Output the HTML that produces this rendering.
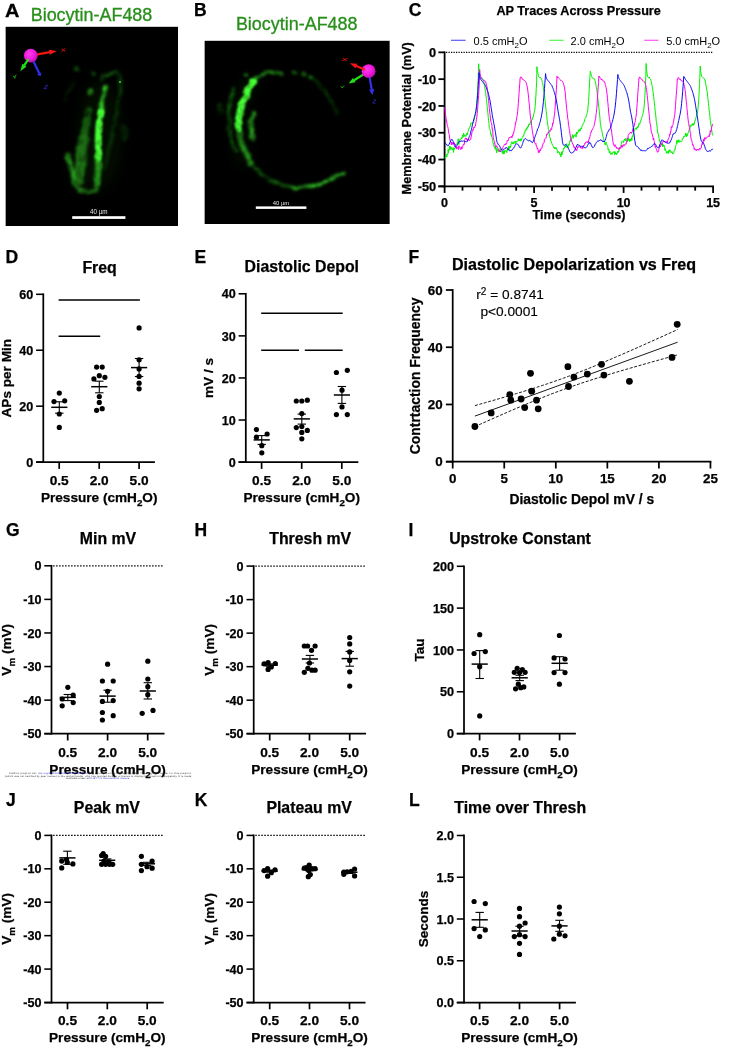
<!DOCTYPE html>
<html lang="en"><head><meta charset="utf-8"><title>Figure</title>
<style>html,body{margin:0;padding:0;background:#fff;overflow:hidden}svg{display:block}svg text{font-family:"Liberation Sans", Arial, Helvetica, sans-serif}</style></head><body>
<svg width="753" height="1049" viewBox="0 0 753 1049">
<defs><filter id="b15" x="-20%" y="-20%" width="140%" height="140%"><feGaussianBlur stdDeviation="1.1"/></filter><filter id="b3" x="-30%" y="-30%" width="160%" height="160%"><feGaussianBlur stdDeviation="2.4"/></filter><filter id="b6" x="-50%" y="-50%" width="200%" height="200%"><feGaussianBlur stdDeviation="7"/></filter><filter id="lump" filterUnits="userSpaceOnUse" x="0" y="20" width="400" height="215" color-interpolation-filters="sRGB"><feTurbulence type="fractalNoise" baseFrequency="0.11" numOctaves="2" seed="7" result="n"/><feDisplacementMap in="SourceGraphic" in2="n" scale="4.6" xChannelSelector="R" yChannelSelector="G" result="d"/><feGaussianBlur in="d" stdDeviation="1.4" result="b"/><feColorMatrix in="n" type="matrix" values="0 0 0 0 0  0 0 0 0 0  0 0 0 0 0  0 0 0.9 0 0.45" result="m"/><feComposite in="b" in2="m" operator="in"/></filter><filter id="lumpB" filterUnits="userSpaceOnUse" x="0" y="20" width="400" height="215" color-interpolation-filters="sRGB"><feTurbulence type="fractalNoise" baseFrequency="0.15" numOctaves="2" seed="11" result="n"/><feDisplacementMap in="SourceGraphic" in2="n" scale="3.8" xChannelSelector="R" yChannelSelector="G" result="d"/><feGaussianBlur in="d" stdDeviation="1.0" result="b"/><feColorMatrix in="n" type="matrix" values="0 0 0 0 0  0 0 0 0 0  0 0 0 0 0  0 0 0.7 0 0.6" result="m"/><feComposite in="b" in2="m" operator="in"/></filter><filter id="lumpD" filterUnits="userSpaceOnUse" x="0" y="20" width="400" height="215" color-interpolation-filters="sRGB"><feTurbulence type="fractalNoise" baseFrequency="0.12" numOctaves="2" seed="5" result="n"/><feDisplacementMap in="SourceGraphic" in2="n" scale="4.0" xChannelSelector="R" yChannelSelector="G" result="d"/><feGaussianBlur in="d" stdDeviation="1.8" result="b"/><feColorMatrix in="n" type="matrix" values="0 0 0 0 0  0 0 0 0 0  0 0 0 0 0  0 0 1.2 0 0.1" result="m"/><feComposite in="b" in2="m" operator="in"/></filter><filter id="gz" x="-20%" y="-20%" width="140%" height="140%"><feGaussianBlur stdDeviation="0.45"/></filter><filter id="gz2" x="-20%" y="-40%" width="140%" height="180%"><feGaussianBlur stdDeviation="0.3"/></filter><radialGradient id="sph" cx="0.4" cy="0.38" r="0.65"><stop offset="0" stop-color="#fa3cec"/><stop offset="0.6" stop-color="#ee18de"/><stop offset="1" stop-color="#b00ea6"/></radialGradient><clipPath id="clipA"><rect x="5.4" y="26.6" width="172.6" height="199.4"/></clipPath><clipPath id="clipB"><rect x="204.4" y="40.6" width="185.4" height="183.4"/></clipPath></defs>
<rect width="753" height="1049" fill="#fff"/>
<text transform="translate(5.0 16.7) scale(1.14 1)" font-size="17.5" font-weight="bold" stroke="#000" stroke-width="0.25">A</text>
<text x="30.7" y="20.8" font-size="17.95" font-weight="normal" text-anchor="start" fill="#288f1a" stroke="#288f1a" stroke-width="0.3">Biocytin-AF488</text>
<g clip-path="url(#clipA)">
<rect x="5.4" y="26.6" width="172.6" height="199.4" fill="#000"/>
<g filter="url(#b6)" opacity="0.3"><ellipse cx="100" cy="135" rx="22" ry="55" fill="#072c05"/><ellipse cx="84" cy="170" rx="14" ry="20" fill="#083206"/></g>
<g filter="url(#lumpD)" fill="none" stroke-linecap="round"><path d="M101.4 79.8 C104 76 110 73 116 71.8" stroke="#166e10" stroke-width="3.6"/><path d="M116 71.8 C121 74 121.5 86 118.9 98.8 C117.5 110 114.5 124 110 142.7 C108 152 106 160 104 168" stroke="#083605" stroke-width="4"/><path d="M89 110 C87 120 85 130 83.8 138" stroke="#13600e" stroke-width="6"/><path d="M75 82.8 C70 88 66 94 64.8 100" stroke="#041e03" stroke-width="3"/><ellipse cx="124.5" cy="133" rx="4" ry="9" fill="#052404" stroke="none"/><circle cx="77.3" cy="68.9" r="3" fill="#15700f" stroke="none"/><circle cx="93.3" cy="73.3" r="1.9" fill="#125c0c" stroke="none"/></g>
<g filter="url(#lump)" fill="none" stroke-linecap="round"><path d="M86.5 122 C85 130 84 136 83.6 140" stroke="#145c0e" stroke-width="7"/><path d="M83.8 138.8 C82.5 146 81 156 80.2 166 C79.8 172 79 176 78.7 180" stroke="#1d7014" stroke-width="10"/><circle cx="91" cy="91.5" r="3.2" fill="#27961c" stroke="none"/><path d="M67.8 155.8 C68.5 160 70 163 70.7 166 C71.5 169 72.4 171 72.9 173.3 C73.4 176 74 179 74.3 182" stroke="#279a1c" stroke-width="5"/><path d="M74.3 183.6 C76 186 77.5 188 79.4 189.4 C82 191.4 85 192.3 88.2 192.3 C91.5 192 94.5 191 97 189.4" stroke="#207c16" stroke-width="3.2"/><path d="M105 87.9 C104 92 103.2 96 102.8 98.8 C102 104 101.2 109 100.6 113.4" stroke="#2fc024" stroke-width="4.2"/><path d="M99 156 C98.2 162 97.8 168 97.7 172 C97.6 178 97.4 182 97 185" stroke="#2aaa1e" stroke-width="6"/></g>
<g filter="url(#lumpB)" fill="none" stroke-linecap="round"><path d="M100.8 112 C100 117 99.4 121 99.2 123.7 C98.8 128 98.5 132 98.4 136.8 C98.3 142 98.3 146 98.4 150 C98.6 153 98.9 155 99.2 157.3" stroke="#46ff34" stroke-width="6.8"/></g>
<circle cx="120" cy="82" r="0.9" fill="#48e03a"/>
<g filter="url(#gz)">
<line x1="34.74" y1="54.89" x2="49.81" y2="52.16" stroke="#f41414" stroke-width="2.2"/>
<polygon points="56.8,50.9 49.77,54.71 48.88,49.79" fill="#f41414"/>
<text transform="translate(63.8 51.6) rotate(-14) scale(1.3 0.8)" font-size="6" font-weight="bold" font-style="italic" fill="#f41414" opacity="0.85" text-anchor="middle">X</text>
<line x1="32.52" y1="59.21" x2="39.44" y2="73.76" stroke="#3030e8" stroke-width="2.2"/>
<polygon points="40.6,76.2 36.97,74.38 41.48,72.24" fill="#3030e8"/>
<text transform="translate(45.2 89) rotate(12) scale(1.0 1.0)" font-size="6" font-weight="bold" font-style="italic" fill="#3030e8" opacity="0.85" text-anchor="middle">Z</text>
<circle cx="30.8" cy="55.6" r="6.9" fill="url(#sph)"/>
<line x1="28.57" y1="58.92" x2="24.15" y2="65.48" stroke="#22e018" stroke-width="2.2"/>
<polygon points="20.3,71.2 22.36,63.67 26.51,66.46" fill="#22e018"/>
<text transform="translate(15.4 78.4) rotate(-20) scale(1.1 0.8)" font-size="6" font-weight="bold" font-style="italic" fill="#22e018" opacity="0.85" text-anchor="middle">Y</text>
</g>
<rect x="72.2" y="216.2" width="53.2" height="2.7" fill="#fff"/>
<text x="98.7" y="214.2" font-size="6.3" fill="#e6e6e6" text-anchor="middle" filter="url(#gz2)">40 &#181;m</text>
</g>
<text x="194" y="15.8" font-size="17.5" font-weight="bold" text-anchor="start" fill="#000" stroke="#000" stroke-width="0.25">B</text>
<text x="235.9" y="29.9" font-size="17.95" font-weight="normal" text-anchor="start" fill="#288f1a" stroke="#288f1a" stroke-width="0.3">Biocytin-AF488</text>
<g clip-path="url(#clipB)">
<rect x="204.4" y="40.6" width="185.4" height="183.4" fill="#000"/>
<g filter="url(#b6)" opacity="0.3"><path d="M256 78 C236 96 230 136 248 166" fill="none" stroke="#072c05" stroke-width="16"/></g>
<g filter="url(#lumpD)" fill="none" stroke-linecap="round"><path d="M311.6 77.9 C316 81 320 85 323.5 88.9 C328 94 331 99 333.5 104.8 C335 108 336.4 110.6 337.5 112.8" stroke="#083405" stroke-width="3"/><path d="M233.9 88.9 C231.5 94 230.4 99 229.9 104.8 C229.2 110 228.8 115 228.9 120.7 C229 127 229.8 133 230.9 138.7 C232 143 233.8 147 235.9 150.6" stroke="#0f5a0b" stroke-width="4"/><ellipse cx="220" cy="108.8" rx="3.4" ry="6" fill="#083806" stroke="none"/><path d="M250.8 162.6 C254 167 257.5 171 261.8 174.5 C266 178 270.5 180.6 275.7 182.5" stroke="#0f580b" stroke-width="3.6"/></g>
<g filter="url(#lump)" fill="none" stroke-linecap="round"><path d="M252.8 81.9 C255.5 79 258.5 76.6 261.8 74.9 C264.4 73.6 267 72.8 269.8 72.5 C273.8 72.3 277.8 72.9 281.7 73.9" stroke="#249a1a" stroke-width="3.2"/><path d="M293.2 72.4 L296.8 73.2 M302 74.1 L304.6 74.9 M309.6 77 L311.6 77.9" stroke="#1e8616" stroke-width="2.8"/><circle cx="245.9" cy="75.4" r="1.7" fill="#34c028" stroke="none"/><path d="M238.4 130 C238.8 134 239.6 137.6 240.9 140.7 C242 144 243.4 147.4 244.9 150.6 C246.6 155 248.6 159 250.8 162.6" stroke="#238c19" stroke-width="5.0"/><path d="M252.8 112.8 C251.6 117 250.9 122 250.8 126.7 C251 131 251.8 135 252.8 138.7" stroke="#2aa61e" stroke-width="4.6"/><path d="M275.7 182.5 C281 184.6 287 186.4 293.7 187.5" stroke="#176a10" stroke-width="3.2"/><path d="M293.7 187.5 C299 188 304.4 187.6 309.6 186.5 C315 185.4 320.4 183.6 325.5 181.5 C330 179.8 334 178.2 337.5 176.5 C340 175.4 342 174.5 343.9 173.5" stroke="#2fc024" stroke-width="3.3"/></g>
<g filter="url(#lumpB)" fill="none" stroke-linecap="round"><path d="M252.8 81.9 C250.6 85.4 248.6 89 246.9 92.8 C245 96.6 243.3 100.6 241.9 104.8 C240.6 108.8 239.6 112.8 238.9 116.8 C238.3 120.8 238 124.8 237.9 128.7" stroke="#46ff34" stroke-width="6.8"/></g>
<g filter="url(#gz)">
<line x1="365.21" y1="73.32" x2="353.71" y2="80.48" stroke="#22e018" stroke-width="2.2"/>
<polygon points="348.7,83.6 352.81,78.09 355.45,82.34" fill="#22e018"/>
<text transform="translate(342.4 88) rotate(-15) scale(1.3 0.45)" font-size="6" font-weight="bold" font-style="italic" fill="#22e018" opacity="0.85" text-anchor="middle">Y</text>
<line x1="369.26" y1="75.15" x2="371.7" y2="89.77" stroke="#3030e8" stroke-width="2.2"/>
<polygon points="372.6,95.2 369.15,89.69 374.08,88.87" fill="#3030e8"/>
<text transform="translate(373.8 103.6) rotate(10) scale(0.9 1.0)" font-size="6" font-weight="bold" font-style="italic" fill="#3030e8" opacity="0.85" text-anchor="middle">Z</text>
<circle cx="368.6" cy="71.2" r="6.9" fill="url(#sph)"/>
<line x1="364.92" y1="69.64" x2="355.89" y2="65.83" stroke="#f41414" stroke-width="2.2"/>
<polygon points="349.9,63.3 357.32,63.72 355.38,68.33" fill="#f41414"/>
<text transform="translate(344.7 61.4) rotate(0) scale(1.7 0.5)" font-size="6" font-weight="bold" font-style="italic" fill="#f41414" opacity="0.85" text-anchor="middle">X</text>
</g>
<rect x="255.8" y="206.4" width="50.6" height="2.5" fill="#fff"/>
<text x="281" y="204.6" font-size="5.9" fill="#e6e6e6" text-anchor="middle" filter="url(#gz2)">40 &#181;m</text>
</g>
<line x1="444.6" y1="51.45" x2="444.6" y2="187.25" stroke="#000" stroke-width="1.8"/>
<line x1="438.4" y1="186.35" x2="714" y2="186.35" stroke="#000" stroke-width="1.8"/>
<line x1="438.4" y1="52.35" x2="444.6" y2="52.35" stroke="#000" stroke-width="1.8"/>
<text x="436.2" y="56.95" font-size="12.8" font-weight="bold" text-anchor="end" fill="#000" stroke="#000" stroke-width="0.25">0</text>
<line x1="438.4" y1="79.15" x2="444.6" y2="79.15" stroke="#000" stroke-width="1.8"/>
<text x="436.2" y="83.75" font-size="12.8" font-weight="bold" text-anchor="end" fill="#000" stroke="#000" stroke-width="0.25">-10</text>
<line x1="438.4" y1="105.95" x2="444.6" y2="105.95" stroke="#000" stroke-width="1.8"/>
<text x="436.2" y="110.55" font-size="12.8" font-weight="bold" text-anchor="end" fill="#000" stroke="#000" stroke-width="0.25">-20</text>
<line x1="438.4" y1="132.75" x2="444.6" y2="132.75" stroke="#000" stroke-width="1.8"/>
<text x="436.2" y="137.35" font-size="12.8" font-weight="bold" text-anchor="end" fill="#000" stroke="#000" stroke-width="0.25">-30</text>
<line x1="438.4" y1="159.55" x2="444.6" y2="159.55" stroke="#000" stroke-width="1.8"/>
<text x="436.2" y="164.15" font-size="12.8" font-weight="bold" text-anchor="end" fill="#000" stroke="#000" stroke-width="0.25">-40</text>
<line x1="438.4" y1="186.35" x2="444.6" y2="186.35" stroke="#000" stroke-width="1.8"/>
<text x="436.2" y="190.95" font-size="12.8" font-weight="bold" text-anchor="end" fill="#000" stroke="#000" stroke-width="0.25">-50</text>
<line x1="446" y1="52.35" x2="713.1" y2="52.35" stroke="#000" stroke-width="1.1" stroke-dasharray="1.25 1.25"/>
<line x1="444.6" y1="186.35" x2="444.6" y2="192.95" stroke="#000" stroke-width="1.8"/>
<text x="444.6" y="206.6" font-size="12.5" font-weight="bold" text-anchor="middle" fill="#000" stroke="#000" stroke-width="0.25">0</text>
<line x1="462.5" y1="186.35" x2="462.5" y2="190.65" stroke="#000" stroke-width="1.8"/>
<line x1="480.4" y1="186.35" x2="480.4" y2="190.65" stroke="#000" stroke-width="1.8"/>
<line x1="498.3" y1="186.35" x2="498.3" y2="190.65" stroke="#000" stroke-width="1.8"/>
<line x1="516.2" y1="186.35" x2="516.2" y2="190.65" stroke="#000" stroke-width="1.8"/>
<line x1="534.1" y1="186.35" x2="534.1" y2="192.95" stroke="#000" stroke-width="1.8"/>
<text x="534.1" y="206.6" font-size="12.5" font-weight="bold" text-anchor="middle" fill="#000" stroke="#000" stroke-width="0.25">5</text>
<line x1="552" y1="186.35" x2="552" y2="190.65" stroke="#000" stroke-width="1.8"/>
<line x1="569.9" y1="186.35" x2="569.9" y2="190.65" stroke="#000" stroke-width="1.8"/>
<line x1="587.8" y1="186.35" x2="587.8" y2="190.65" stroke="#000" stroke-width="1.8"/>
<line x1="605.7" y1="186.35" x2="605.7" y2="190.65" stroke="#000" stroke-width="1.8"/>
<line x1="623.6" y1="186.35" x2="623.6" y2="192.95" stroke="#000" stroke-width="1.8"/>
<text x="623.6" y="206.6" font-size="12.5" font-weight="bold" text-anchor="middle" fill="#000" stroke="#000" stroke-width="0.25">10</text>
<line x1="641.5" y1="186.35" x2="641.5" y2="190.65" stroke="#000" stroke-width="1.8"/>
<line x1="659.4" y1="186.35" x2="659.4" y2="190.65" stroke="#000" stroke-width="1.8"/>
<line x1="677.3" y1="186.35" x2="677.3" y2="190.65" stroke="#000" stroke-width="1.8"/>
<line x1="695.2" y1="186.35" x2="695.2" y2="190.65" stroke="#000" stroke-width="1.8"/>
<line x1="713.1" y1="186.35" x2="713.1" y2="192.95" stroke="#000" stroke-width="1.8"/>
<text x="713.1" y="206.6" font-size="12.5" font-weight="bold" text-anchor="middle" fill="#000" stroke="#000" stroke-width="0.25">15</text>
<path d="M444.6 157.75 L444.96 157.74 L445.32 158.01 L445.67 156.66 L446.03 157.08 L446.39 154.43 L446.75 157.05 L447.11 155.36 L447.46 154.29 L447.82 154.61 L448.18 149.12 L448.54 153.02 L448.9 149.75 L449.25 149.27 L449.61 146.23 L449.97 149.94 L450.33 146.3 L450.69 148.32 L451.04 147.83 L451.4 148.68 L451.76 147.56 L452.12 149.97 L452.48 149.19 L452.83 149.04 L453.19 147.59 L453.55 152.43 L453.91 147.89 L454.27 148.22 L454.62 149.32 L454.98 147.74 L455.34 147.78 L455.7 144.47 L456.06 145.13 L456.41 144.65 L456.77 143.77 L457.13 142.94 L457.49 142.25 L457.85 142.48 L458.2 138.72 L458.56 142.81 L458.92 144.43 L459.28 140.29 L459.64 140.14 L459.99 139.39 L460.35 139.85 L460.71 139.53 L461.07 138.67 L461.43 137.57 L461.78 138.7 L462.14 138.11 L462.5 134.98 L462.86 136.05 L463.22 137.28 L463.57 133.16 L463.93 134.59 L464.29 135.91 L464.65 136.45 L465.01 134.74 L465.36 136 L465.72 136.25 L466.08 136.42 L466.44 135.33 L466.8 133.23 L467.15 134.4 L467.51 134.8 L467.87 131.79 L468.23 131.48 L468.59 129.67 L468.94 128.22 L469.3 128.43 L469.66 127.31 L470.02 126.21 L470.38 126.31 L470.73 123.97 L471.09 122.78 L471.45 123.34 L471.81 123.3 L472.17 123.01 L472.52 123.13 L472.88 122.83 L473.24 122.09 L473.6 121.7 L473.96 120.35 L474.31 119.7 L474.67 117.02 L475.03 115.66 L475.39 114.72 L475.75 113.71 L476.1 110.83 L476.46 107.6 L476.82 104.08 L477.18 98.77 L477.54 92.46 L477.89 84.34 L478.25 77.18 L478.61 63.75 L478.97 70.1 L479.33 71.37 L479.68 74.42 L480.04 76.33 L480.4 77.73 L480.76 77.81 L481.12 77.78 L481.47 77.55 L481.83 77.91 L482.19 78.58 L482.55 78.63 L482.91 79 L483.26 80.19 L483.62 81.3 L483.98 82.7 L484.34 84.08 L484.7 86.3 L485.05 89.07 L485.41 90.88 L485.77 93.8 L486.13 96.89 L486.49 99.35 L486.84 102.89 L487.2 106.88 L487.56 109.94 L487.92 113.22 L488.28 117.46 L488.63 120.82 L488.99 123.6 L489.35 128.59 L489.71 128.75 L490.07 129.83 L490.42 131.24 L490.78 134.45 L491.14 133.76 L491.5 136.38 L491.86 136.18 L492.21 137.71 L492.57 139.82 L492.93 142.56 L493.29 143.83 L493.65 143.45 L494 146.52 L494.36 145.98 L494.72 146.93 L495.08 148.68 L495.44 146.38 L495.79 149.56 L496.15 147.62 L496.51 152.54 L496.87 152.91 L497.23 149.28 L497.58 149.55 L497.94 150.38 L498.3 149.78 L498.66 151.57 L499.02 149.94 L499.37 150.33 L499.73 149.5 L500.09 148.46 L500.45 149.73 L500.81 149.79 L501.16 151.47 L501.52 151.67 L501.88 151.53 L502.24 152.42 L502.6 151.06 L502.95 153.77 L503.31 150.84 L503.67 154.11 L504.03 151.66 L504.39 153.44 L504.74 150.37 L505.1 151.71 L505.46 151.07 L505.82 150.35 L506.18 151.6 L506.53 151.77 L506.89 152.6 L507.25 148.67 L507.61 150.52 L507.97 150.07 L508.32 149.06 L508.68 146.35 L509.04 150.03 L509.4 147.25 L509.76 147.37 L510.11 145.69 L510.47 147.67 L510.83 145.47 L511.19 143.48 L511.55 142.14 L511.9 141.64 L512.26 144.03 L512.62 142.73 L512.98 142.72 L513.34 144.04 L513.69 144.06 L514.05 141.58 L514.41 142.17 L514.77 142.62 L515.13 141.09 L515.48 143.56 L515.84 141.77 L516.2 142.24 L516.56 142.15 L516.92 141.3 L517.27 141.39 L517.63 141.03 L517.99 140.78 L518.35 138.69 L518.71 141.05 L519.06 139.42 L519.42 139.76 L519.78 140.75 L520.14 139.37 L520.5 141.11 L520.85 138.67 L521.21 140.65 L521.57 139.96 L521.93 138.59 L522.29 137.43 L522.64 136.63 L523 135.82 L523.36 136.16 L523.72 136.06 L524.08 133.38 L524.43 132.69 L524.79 133.13 L525.15 130.12 L525.51 130.16 L525.87 130.65 L526.22 128.53 L526.58 129.75 L526.94 128.73 L527.3 126.93 L527.66 128.31 L528.01 126.24 L528.37 126.98 L528.73 124.51 L529.09 125.26 L529.45 123.89 L529.8 124.75 L530.16 123.2 L530.52 121.59 L530.88 121.46 L531.24 122.7 L531.59 120.07 L531.95 119.49 L532.31 119.58 L532.67 117.4 L533.03 117.8 L533.38 115.99 L533.74 114.12 L534.1 112.77 L534.46 111.23 L534.82 109.86 L535.17 106.61 L535.53 101.03 L535.89 96.05 L536.25 88.88 L536.61 82.17 L536.96 66.67 L537.32 71.63 L537.68 71.5 L538.04 73.42 L538.4 75.38 L538.75 76.81 L539.11 77.19 L539.47 77.51 L539.83 77.56 L540.19 78.07 L540.54 77.41 L540.9 78.44 L541.26 78.54 L541.62 79.19 L541.98 80.89 L542.33 82.37 L542.69 82.89 L543.05 85.56 L543.41 87.57 L543.77 89.96 L544.12 92.27 L544.48 95.57 L544.84 98.26 L545.2 101.71 L545.56 104.91 L545.91 109.2 L546.27 111.3 L546.63 114.6 L546.99 119.13 L547.35 121.87 L547.7 124.4 L548.06 126.55 L548.42 129.41 L548.78 129.91 L549.14 133.21 L549.49 136.13 L549.85 137.45 L550.21 137.48 L550.57 140.57 L550.93 140.45 L551.28 141.61 L551.64 143.17 L552 143.38 L552.36 145.14 L552.72 145.26 L553.07 146.2 L553.43 146.52 L553.79 147.9 L554.15 147.09 L554.51 148.03 L554.86 148.83 L555.22 147.51 L555.58 147.68 L555.94 149.12 L556.3 147.73 L556.65 148.69 L557.01 149.04 L557.37 151.39 L557.73 152.94 L558.09 151.21 L558.44 152.09 L558.8 152.19 L559.16 153.05 L559.52 152.52 L559.88 154.58 L560.23 153.67 L560.59 155.46 L560.95 156.92 L561.31 154.55 L561.67 151.94 L562.02 154.9 L562.38 151.04 L562.74 151.96 L563.1 150.6 L563.46 149.11 L563.81 148.05 L564.17 148.66 L564.53 146.87 L564.89 146.13 L565.25 145.47 L565.6 147.16 L565.96 144.56 L566.32 144.2 L566.68 143.67 L567.04 147.88 L567.39 146.06 L567.75 148.1 L568.11 145.18 L568.47 144.4 L568.83 145.58 L569.18 145.2 L569.54 142.23 L569.9 140.73 L570.26 141.32 L570.62 139.75 L570.97 141.39 L571.33 138.56 L571.69 136.94 L572.05 136.44 L572.41 134.49 L572.76 137.36 L573.12 138.53 L573.48 135.5 L573.84 136.73 L574.2 135.82 L574.55 135.36 L574.91 135.45 L575.27 134.33 L575.63 134.15 L575.99 137.15 L576.34 134.88 L576.7 132.01 L577.06 134.14 L577.42 132.01 L577.78 132.57 L578.13 132.43 L578.49 129.79 L578.85 129.96 L579.21 130.93 L579.57 129.41 L579.92 131.32 L580.28 130.35 L580.64 128.33 L581 128.65 L581.36 129.08 L581.71 127.01 L582.07 126.39 L582.43 124.76 L582.79 124.22 L583.15 124.38 L583.5 123.68 L583.86 122.56 L584.22 121.83 L584.58 119.8 L584.94 118.95 L585.29 118.24 L585.65 117.87 L586.01 117.13 L586.37 115.31 L586.73 114.78 L587.08 113.24 L587.44 112.44 L587.8 109.6 L588.16 105.35 L588.52 101.59 L588.87 96.19 L589.23 89.45 L589.59 82.31 L589.95 76.66 L590.31 71.25 L590.66 72.84 L591.02 73.76 L591.38 75.76 L591.74 76.68 L592.1 77.46 L592.45 78.19 L592.81 77.97 L593.17 78.01 L593.53 78.49 L593.89 78.99 L594.24 78.73 L594.6 78.97 L594.96 80.65 L595.32 81.88 L595.68 83.19 L596.03 85.5 L596.39 87.91 L596.75 89.31 L597.11 92.73 L597.47 95.39 L597.82 98.48 L598.18 101.88 L598.54 105 L598.9 108.05 L599.26 111.08 L599.61 114.73 L599.97 118.44 L600.33 122.66 L600.69 124.74 L601.05 128.04 L601.4 129.25 L601.76 129.81 L602.12 132.2 L602.48 134.23 L602.84 136.37 L603.19 137.03 L603.55 138.32 L603.91 140.89 L604.27 141.66 L604.63 141.08 L604.98 144.57 L605.34 143.61 L605.7 144.77 L606.06 142.12 L606.42 143.68 L606.77 144.38 L607.13 145.21 L607.49 146.13 L607.85 147.01 L608.21 150.08 L608.56 149.01 L608.92 149.6 L609.28 152.74 L609.64 150.88 L610 151.58 L610.35 154.42 L610.71 153.51 L611.07 153.48 L611.43 153.79 L611.79 152.72 L612.14 154.49 L612.5 153.15 L612.86 152.47 L613.22 151.75 L613.58 152.39 L613.93 152.66 L614.29 151.63 L614.65 154.73 L615.01 151.54 L615.37 152.98 L615.72 154.04 L616.08 153.06 L616.44 154.58 L616.8 154.72 L617.16 152.65 L617.51 152.93 L617.87 150.9 L618.23 152.29 L618.59 152.19 L618.95 151.13 L619.3 147.34 L619.66 148.38 L620.02 148.17 L620.38 147.63 L620.74 146.79 L621.09 144.81 L621.45 143.25 L621.81 141.62 L622.17 140.9 L622.53 141.24 L622.88 141.75 L623.24 141.52 L623.6 142.79 L623.96 141.04 L624.32 139.2 L624.67 139.88 L625.03 138.96 L625.39 140.8 L625.75 138.21 L626.11 138.85 L626.46 139.13 L626.82 138.77 L627.18 141.82 L627.54 140.06 L627.9 140.61 L628.25 137.76 L628.61 140.21 L628.97 140.76 L629.33 139.37 L629.69 141.6 L630.04 138.79 L630.4 141.04 L630.76 140.01 L631.12 140.49 L631.48 137.87 L631.83 140.39 L632.19 136.19 L632.55 136.82 L632.91 134.72 L633.27 134.93 L633.62 132.27 L633.98 131.3 L634.34 129.99 L634.7 129.57 L635.06 128.68 L635.41 127.89 L635.77 129.01 L636.13 129.57 L636.49 129.45 L636.85 127.34 L637.2 128.09 L637.56 126.45 L637.92 126.96 L638.28 127.36 L638.64 125.06 L638.99 123.48 L639.35 124.44 L639.71 124.17 L640.07 123.19 L640.43 120.99 L640.78 121.17 L641.14 120.02 L641.5 118.13 L641.86 117.36 L642.22 116.08 L642.57 115.26 L642.93 114.1 L643.29 112.51 L643.65 110.77 L644.01 107.8 L644.36 103.99 L644.72 98.44 L645.08 92.04 L645.44 84.51 L645.8 76.48 L646.15 63.48 L646.51 69.8 L646.87 71.66 L647.23 74.8 L647.59 76.11 L647.94 77.19 L648.3 77.66 L648.66 78 L649.02 77.58 L649.38 76.99 L649.73 78.14 L650.09 78.76 L650.45 79.22 L650.81 80.36 L651.17 81.09 L651.52 82.81 L651.88 84.65 L652.24 86.42 L652.6 88.61 L652.96 91.07 L653.31 93.93 L653.67 96.49 L654.03 100.27 L654.39 102.91 L654.75 106.73 L655.1 109.97 L655.46 112.86 L655.82 116.01 L656.18 120.35 L656.54 122.68 L656.89 124.98 L657.25 128.83 L657.61 132.51 L657.97 132.3 L658.33 134.51 L658.68 136.1 L659.04 138.47 L659.4 140.22 L659.76 141.69 L660.12 141.73 L660.47 143.68 L660.83 144.09 L661.19 145.22 L661.55 143.36 L661.91 144.64 L662.26 143.5 L662.62 146.76 L662.98 144.35 L663.34 145.2 L663.7 146.29 L664.05 145.2 L664.41 147.23 L664.77 148.97 L665.13 150.5 L665.49 148.76 L665.84 150.79 L666.2 151.44 L666.56 153.38 L666.92 151.21 L667.28 152.01 L667.63 152.73 L667.99 152.21 L668.35 153.51 L668.71 150.53 L669.07 152.12 L669.42 149.68 L669.78 151.02 L670.14 151.3 L670.5 150.45 L670.86 151.02 L671.21 152.95 L671.57 152.11 L671.93 151.62 L672.29 152.76 L672.65 154.08 L673 152.78 L673.36 153.33 L673.72 152.42 L674.08 151.02 L674.44 150.22 L674.79 149.31 L675.15 149.73 L675.51 146.22 L675.87 145.59 L676.23 144.65 L676.58 142.99 L676.94 140.16 L677.3 143.13 L677.66 143.07 L678.02 140.21 L678.37 141.92 L678.73 139.68 L679.09 142.44 L679.45 142.11 L679.81 140.83 L680.16 140.88 L680.52 141.43 L680.88 141.3 L681.24 141.7 L681.6 141.66 L681.95 140.89 L682.31 138.65 L682.67 138.66 L683.03 138.8 L683.39 137.88 L683.74 136.77 L684.1 135.93 L684.46 137.04 L684.82 136.67 L685.18 135.94 L685.53 133.12 L685.89 135.49 L686.25 134.01 L686.61 136.76 L686.97 133.62 L687.32 135.56 L687.68 134.5 L688.04 133.21 L688.4 131.84 L688.76 130.65 L689.11 129.62 L689.47 128.98 L689.83 128.93 L690.19 125.28 L690.55 126.9 L690.9 126.16 L691.26 124.49 L691.62 125.13 L691.98 125.16 L692.34 125.07 L692.69 123.41 L693.05 125.49 L693.41 124.91 L693.77 123.49 L694.13 124.57 L694.48 122.92 L694.84 120.72 L695.2 120.86 L695.56 119.19 L695.92 117.49 L696.27 117.18 L696.63 115.01 L696.99 114.15 L697.35 113.05 L697.71 110.93 L698.06 108.06 L698.42 103.95 L698.78 98.84 L699.14 91.97 L699.5 84.57 L699.85 77.4 L700.21 66.06 L700.57 71.12 L700.93 72.41 L701.29 74.93 L701.64 76.16 L702 76.79 L702.36 77.19 L702.72 77.69 L703.08 77.96 L703.43 77.93 L703.79 78.26 L704.15 78.56 L704.51 78.81 L704.87 80.4 L705.22 80.31 L705.58 83.37 L705.94 85.1 L706.3 87.1 L706.66 89.1 L707.01 91.12 L707.37 92.81 L707.73 96.87 L708.09 99.41 L708.45 103.36 L708.8 106.53 L709.16 110.37 L709.52 112.28 L709.88 116.6 L710.24 120.18 L710.59 120.93 L710.95 125.23 L711.31 127.17 L711.67 129.64 L712.03 132.23 L712.38 134.88 L712.74 135.29 L713.1 134.71" fill="none" stroke="#00f200" stroke-width="1.0" stroke-linejoin="round"/>
<path d="M444.6 107.46 L444.96 109.29 L445.32 112.17 L445.67 115.26 L446.03 118.48 L446.39 120.08 L446.75 121.94 L447.11 124.48 L447.46 126.24 L447.82 126.78 L448.18 128.62 L448.54 131.84 L448.9 133.6 L449.25 134.66 L449.61 137.88 L449.97 140 L450.33 140.95 L450.69 142.13 L451.04 142.75 L451.4 144.84 L451.76 141.94 L452.12 143.39 L452.48 144.35 L452.83 142.78 L453.19 143.44 L453.55 143.87 L453.91 143.29 L454.27 142.65 L454.62 144.56 L454.98 144.14 L455.34 144.13 L455.7 147.36 L456.06 147.43 L456.41 146.74 L456.77 149.21 L457.13 148.2 L457.49 146.96 L457.85 147.17 L458.2 147.5 L458.56 149.5 L458.92 145.75 L459.28 147.23 L459.64 147.04 L459.99 147.35 L460.35 149.38 L460.71 149.33 L461.07 149.33 L461.43 146.77 L461.78 149.08 L462.14 148.26 L462.5 147.66 L462.86 146.08 L463.22 145.08 L463.57 144.1 L463.93 144.17 L464.29 144.54 L464.65 140.54 L465.01 139.46 L465.36 137.86 L465.72 138.52 L466.08 138.76 L466.44 137.98 L466.8 140.02 L467.15 140.09 L467.51 140.65 L467.87 140.09 L468.23 138.99 L468.59 140.4 L468.94 140.12 L469.3 140.65 L469.66 140.08 L470.02 139.89 L470.38 138.71 L470.73 139.35 L471.09 137.02 L471.45 135.83 L471.81 132.82 L472.17 131.92 L472.52 130.57 L472.88 129.42 L473.24 130.23 L473.6 128.46 L473.96 127.16 L474.31 128 L474.67 126.51 L475.03 126.47 L475.39 126.13 L475.75 123.32 L476.1 121.82 L476.46 119.13 L476.82 117.01 L477.18 113.79 L477.54 110.83 L477.89 105.04 L478.25 100.18 L478.61 95.24 L478.97 89.36 L479.33 82.71 L479.68 69.57 L480.04 74.56 L480.4 74.61 L480.76 76.65 L481.12 77.67 L481.47 77.72 L481.83 78.63 L482.19 79.62 L482.55 79.77 L482.91 80.22 L483.26 80.35 L483.62 79.94 L483.98 80.62 L484.34 80.47 L484.7 81.01 L485.05 81.78 L485.41 81.91 L485.77 81.69 L486.13 83.7 L486.49 85.15 L486.84 85.96 L487.2 88.06 L487.56 90.37 L487.92 92.96 L488.28 97.51 L488.63 100.65 L488.99 104.87 L489.35 108.71 L489.71 112.21 L490.07 114.66 L490.42 117.93 L490.78 121.12 L491.14 122.71 L491.5 122.87 L491.86 125.25 L492.21 129.19 L492.57 128.74 L492.93 133.9 L493.29 137.39 L493.65 139.08 L494 140.37 L494.36 141.45 L494.72 143.03 L495.08 144.96 L495.44 145.49 L495.79 146.57 L496.15 145.59 L496.51 146.29 L496.87 145.86 L497.23 147.61 L497.58 147.54 L497.94 148.61 L498.3 149.76 L498.66 150.57 L499.02 151.05 L499.37 151.57 L499.73 150.24 L500.09 150.74 L500.45 151.99 L500.81 150.26 L501.16 150.19 L501.52 148.75 L501.88 149.66 L502.24 149.03 L502.6 148.74 L502.95 147.3 L503.31 146.26 L503.67 145.89 L504.03 145.69 L504.39 144.49 L504.74 144.5 L505.1 144.04 L505.46 144.8 L505.82 143.54 L506.18 144.33 L506.53 143.88 L506.89 142.63 L507.25 140.47 L507.61 140.88 L507.97 141.08 L508.32 140.51 L508.68 138.74 L509.04 137.67 L509.4 137.16 L509.76 137.82 L510.11 137.03 L510.47 137.11 L510.83 136.79 L511.19 137.07 L511.55 136.34 L511.9 137.8 L512.26 136.68 L512.62 134.83 L512.98 135.3 L513.34 132.96 L513.69 133.14 L514.05 130.86 L514.41 128.7 L514.77 128.19 L515.13 126.33 L515.48 122.51 L515.84 122.81 L516.2 120.92 L516.56 118.94 L516.92 116.82 L517.27 114.81 L517.63 111.82 L517.99 107.86 L518.35 103.34 L518.71 98.07 L519.06 93.19 L519.42 88.11 L519.78 83.37 L520.14 77.59 L520.5 77.71 L520.85 76.82 L521.21 77 L521.57 77.86 L521.93 77.79 L522.29 79.13 L522.64 79.55 L523 79.79 L523.36 79.57 L523.72 80.21 L524.08 80.65 L524.43 80.55 L524.79 80.59 L525.15 81.23 L525.51 81.59 L525.87 81.72 L526.22 82.62 L526.58 83.86 L526.94 85.82 L527.3 87.12 L527.66 89.12 L528.01 92.44 L528.37 94.82 L528.73 98.84 L529.09 102.77 L529.45 105.72 L529.8 110.09 L530.16 113.99 L530.52 117.12 L530.88 119.79 L531.24 122.23 L531.59 125.16 L531.95 128.07 L532.31 130.3 L532.67 132.7 L533.03 135.11 L533.38 136.24 L533.74 138.62 L534.1 139.93 L534.46 142.15 L534.82 143.19 L535.17 143.31 L535.53 144.08 L535.89 143.46 L536.25 146.04 L536.61 145.91 L536.96 147.04 L537.32 149.1 L537.68 148.28 L538.04 149.72 L538.4 152.64 L538.75 151 L539.11 151.06 L539.47 152.42 L539.83 149.71 L540.19 150.31 L540.54 150.68 L540.9 148.37 L541.26 148.36 L541.62 148.41 L541.98 148.33 L542.33 145.47 L542.69 145.58 L543.05 143.64 L543.41 143.12 L543.77 143.16 L544.12 142.38 L544.48 139.55 L544.84 138.75 L545.2 138.7 L545.56 138.76 L545.91 138.36 L546.27 136.9 L546.63 134.18 L546.99 134.37 L547.35 134.23 L547.7 134.37 L548.06 132.58 L548.42 133.05 L548.78 131.95 L549.14 131.09 L549.49 130.64 L549.85 131.27 L550.21 131.41 L550.57 130.48 L550.93 128.61 L551.28 129.04 L551.64 129.55 L552 126.49 L552.36 126.34 L552.72 122.89 L553.07 123.7 L553.43 121.48 L553.79 119.46 L554.15 116.82 L554.51 114.26 L554.86 110.64 L555.22 106.25 L555.58 100.63 L555.94 95.48 L556.3 90.19 L556.65 84.3 L557.01 76.23 L557.37 77.7 L557.73 77.11 L558.09 76.9 L558.44 77.58 L558.8 78.18 L559.16 78.47 L559.52 78.98 L559.88 79.42 L560.23 79.74 L560.59 80.48 L560.95 80.52 L561.31 80.44 L561.67 80.92 L562.02 81.3 L562.38 81.21 L562.74 81.99 L563.1 82.59 L563.46 83.2 L563.81 84.94 L564.17 85.9 L564.53 87.93 L564.89 90.12 L565.25 93.07 L565.6 97.63 L565.96 100.8 L566.32 104.94 L566.68 108.42 L567.04 111.98 L567.39 114.81 L567.75 118.52 L568.11 120.35 L568.47 124.16 L568.83 126.29 L569.18 128.62 L569.54 130.32 L569.9 133.41 L570.26 135.99 L570.62 137.69 L570.97 140.4 L571.33 139.6 L571.69 141.15 L572.05 142.19 L572.41 142.93 L572.76 144.32 L573.12 144.88 L573.48 144.66 L573.84 146.96 L574.2 147.89 L574.55 146.78 L574.91 147.67 L575.27 149.56 L575.63 149.96 L575.99 150.57 L576.34 149.39 L576.7 150.53 L577.06 149.36 L577.42 148.22 L577.78 146.65 L578.13 147.47 L578.49 146.56 L578.85 146.87 L579.21 146.9 L579.57 146.98 L579.92 146.58 L580.28 146.23 L580.64 147.99 L581 148.26 L581.36 148.32 L581.71 147.74 L582.07 147.33 L582.43 148.72 L582.79 146.86 L583.15 147.41 L583.5 145.21 L583.86 145.89 L584.22 145.24 L584.58 144.24 L584.94 143.13 L585.29 143.54 L585.65 142.26 L586.01 142.21 L586.37 142.24 L586.73 142.05 L587.08 141.46 L587.44 142.67 L587.8 141.74 L588.16 141.29 L588.52 142.34 L588.87 139.34 L589.23 139.26 L589.59 137.99 L589.95 136.47 L590.31 134.71 L590.66 133.29 L591.02 132.08 L591.38 132.15 L591.74 130.15 L592.1 129.68 L592.45 129.7 L592.81 128.79 L593.17 127.59 L593.53 127.24 L593.89 126.29 L594.24 125.62 L594.6 123.49 L594.96 121.02 L595.32 119.91 L595.68 118.68 L596.03 114.7 L596.39 112.44 L596.75 108.52 L597.11 103.93 L597.47 97.84 L597.82 92.35 L598.18 87.05 L598.54 82.66 L598.9 76.04 L599.26 77.18 L599.61 76.95 L599.97 77.19 L600.33 77.75 L600.69 78.42 L601.05 78.85 L601.4 80.02 L601.76 79.19 L602.12 80.09 L602.48 79.98 L602.84 80.67 L603.19 80.63 L603.55 80.99 L603.91 81.67 L604.27 81.4 L604.63 81.86 L604.98 83.26 L605.34 84.78 L605.7 85.78 L606.06 87.46 L606.42 89.19 L606.77 91.89 L607.13 94.71 L607.49 98.68 L607.85 102.74 L608.21 106.37 L608.56 111 L608.92 114.15 L609.28 117.47 L609.64 119.74 L610 121.63 L610.35 123.6 L610.71 125.05 L611.07 128.4 L611.43 130.03 L611.79 133.05 L612.14 135.74 L612.5 138.28 L612.86 141.38 L613.22 143.07 L613.58 144.74 L613.93 144.77 L614.29 146.3 L614.65 146.33 L615.01 144.6 L615.37 146.45 L615.72 146.68 L616.08 146.37 L616.44 148.42 L616.8 147.33 L617.16 147.82 L617.51 148.62 L617.87 148.55 L618.23 148.81 L618.59 148.35 L618.95 149.67 L619.3 148.48 L619.66 148.99 L620.02 147.07 L620.38 147.57 L620.74 148.32 L621.09 146.63 L621.45 147.14 L621.81 145.06 L622.17 145.9 L622.53 147.31 L622.88 145.71 L623.24 144.53 L623.6 145.2 L623.96 146.12 L624.32 145.07 L624.67 145.07 L625.03 144.09 L625.39 144.18 L625.75 144.03 L626.11 144.18 L626.46 142.21 L626.82 140.96 L627.18 139.85 L627.54 138.12 L627.9 138.17 L628.25 135.47 L628.61 134.93 L628.97 133.82 L629.33 133.61 L629.69 133.4 L630.04 132.71 L630.4 132.17 L630.76 133.09 L631.12 132.52 L631.48 133.33 L631.83 131.98 L632.19 131.69 L632.55 131.82 L632.91 128.82 L633.27 129.21 L633.62 127.27 L633.98 126.96 L634.34 125.81 L634.7 122.7 L635.06 122.14 L635.41 120.56 L635.77 117.7 L636.13 115.96 L636.49 112.35 L636.85 107.56 L637.2 103.33 L637.56 97.86 L637.92 92.61 L638.28 87.63 L638.64 83.3 L638.99 77.63 L639.35 77.89 L639.71 77.02 L640.07 77.27 L640.43 78.19 L640.78 78.34 L641.14 78.95 L641.5 79.17 L641.86 79.45 L642.22 79.45 L642.57 80.74 L642.93 80.59 L643.29 80.82 L643.65 81.19 L644.01 81.07 L644.36 81.54 L644.72 82.01 L645.08 83.41 L645.44 84.43 L645.8 85.6 L646.15 87.34 L646.51 89.41 L646.87 91.92 L647.23 95.27 L647.59 99.19 L647.94 102.17 L648.3 106.62 L648.66 109.94 L649.02 113.56 L649.38 116.82 L649.73 120.63 L650.09 123.52 L650.45 124.89 L650.81 126.99 L651.17 130.8 L651.52 132.84 L651.88 132.8 L652.24 134.35 L652.6 136.02 L652.96 137.19 L653.31 139.96 L653.67 138.19 L654.03 140.81 L654.39 141.6 L654.75 143.7 L655.1 146.96 L655.46 146.28 L655.82 148.16 L656.18 148.45 L656.54 149.92 L656.89 150.11 L657.25 152.13 L657.61 152.1 L657.97 151.75 L658.33 151.75 L658.68 150.48 L659.04 148.4 L659.4 146.21 L659.76 147.11 L660.12 145.48 L660.47 146.53 L660.83 145.41 L661.19 144.24 L661.55 143.56 L661.91 144.47 L662.26 142.65 L662.62 142.62 L662.98 141.23 L663.34 141.19 L663.7 141.21 L664.05 141.78 L664.41 141.08 L664.77 141.95 L665.13 141.91 L665.49 142.79 L665.84 142.39 L666.2 142.44 L666.56 141.5 L666.92 141.3 L667.28 142.37 L667.63 140.99 L667.99 140.04 L668.35 138.85 L668.71 138.76 L669.07 137.34 L669.42 136.53 L669.78 134 L670.14 134.56 L670.5 131.41 L670.86 131.87 L671.21 127.19 L671.57 126.54 L671.93 127.67 L672.29 125.6 L672.65 125.28 L673 124.43 L673.36 122.26 L673.72 120.92 L674.08 118.17 L674.44 116.83 L674.79 114.28 L675.15 110.22 L675.51 105.54 L675.87 100.35 L676.23 95.24 L676.58 90.8 L676.94 86 L677.3 78.94 L677.66 79.49 L678.02 77.55 L678.37 77.43 L678.73 77.6 L679.09 78.24 L679.45 78.69 L679.81 79.61 L680.16 78.89 L680.52 79.96 L680.88 80.26 L681.24 80.83 L681.6 80.58 L681.95 81.22 L682.31 80.97 L682.67 80.97 L683.03 81.54 L683.39 82.52 L683.74 83.1 L684.1 84.89 L684.46 86.35 L684.82 88.08 L685.18 90.51 L685.53 93.29 L685.89 97.34 L686.25 101.3 L686.61 104.2 L686.97 108.5 L687.32 112.11 L687.68 115.47 L688.04 119.04 L688.4 122.1 L688.76 123.81 L689.11 126.35 L689.47 127.35 L689.83 130.13 L690.19 132.09 L690.55 133.41 L690.9 137.64 L691.26 139.85 L691.62 140.05 L691.98 141.3 L692.34 143.59 L692.69 145.28 L693.05 144.54 L693.41 145.94 L693.77 146.24 L694.13 149.25 L694.48 148.38 L694.84 149.62 L695.2 150.13 L695.56 149.16 L695.92 149.44 L696.27 150.73 L696.63 150.58 L696.99 149.02 L697.35 149.35 L697.71 149.76 L698.06 149.06 L698.42 149.27 L698.78 150.33 L699.14 149.57 L699.5 148.73 L699.85 148.18 L700.21 149.35 L700.57 148.52 L700.93 147.7 L701.29 147.71 L701.64 144.64 L702 144.24 L702.36 142.53 L702.72 144.5 L703.08 142.4 L703.43 139.33 L703.79 141.32 L704.15 141.08 L704.51 138.89 L704.87 137.41 L705.22 137.94 L705.58 139.1 L705.94 137.71 L706.3 137.77 L706.66 137.82 L707.01 137.62 L707.37 137.09 L707.73 136.54 L708.09 135.99 L708.45 135.75 L708.8 136.16 L709.16 136.86 L709.52 134.02 L709.88 134.82 L710.24 130.56 L710.59 132.18 L710.95 131.4 L711.31 130.09 L711.67 127.2 L712.03 126.16 L712.38 124.84 L712.74 124.12 L713.1 124.04" fill="none" stroke="#ff00f0" stroke-width="1.0" stroke-linejoin="round"/>
<path d="M444.6 141.95 L444.96 142.27 L445.32 142.83 L445.67 143.65 L446.03 143.77 L446.39 144.66 L446.75 144.43 L447.11 145.47 L447.46 145.43 L447.82 145.74 L448.18 145.41 L448.54 145.53 L448.9 144.6 L449.25 144.2 L449.61 142.99 L449.97 142.25 L450.33 141.49 L450.69 140.94 L451.04 139.88 L451.4 139.53 L451.76 139.05 L452.12 139.72 L452.48 139.91 L452.83 140.64 L453.19 141.65 L453.55 142.79 L453.91 143.98 L454.27 145.3 L454.62 146.32 L454.98 146.79 L455.34 146.88 L455.7 146.72 L456.06 146.72 L456.41 146.33 L456.77 145.86 L457.13 145.21 L457.49 144.62 L457.85 143.72 L458.2 142.77 L458.56 142.74 L458.92 142.36 L459.28 141.28 L459.64 141.49 L459.99 141.14 L460.35 141.1 L460.71 141.61 L461.07 140.64 L461.43 140.81 L461.78 141.21 L462.14 141.03 L462.5 141.16 L462.86 141.4 L463.22 141.16 L463.57 141.02 L463.93 140.83 L464.29 140.99 L464.65 141.26 L465.01 141.03 L465.36 141.74 L465.72 141.46 L466.08 141.48 L466.44 141.88 L466.8 142.14 L467.15 141.55 L467.51 140.68 L467.87 139.9 L468.23 138.84 L468.59 138.69 L468.94 137.54 L469.3 136.48 L469.66 135.8 L470.02 135.45 L470.38 133.55 L470.73 131.9 L471.09 130.79 L471.45 129.71 L471.81 127.98 L472.17 126.23 L472.52 124.17 L472.88 123.03 L473.24 121.65 L473.6 119.99 L473.96 118.93 L474.31 117.29 L474.67 116.31 L475.03 114.88 L475.39 113.33 L475.75 111.71 L476.1 109.58 L476.46 106.71 L476.82 103.57 L477.18 99.88 L477.54 95.91 L477.89 91.27 L478.25 85.55 L478.61 80.33 L478.97 72.64 L479.33 75.74 L479.68 76.64 L480.04 78.01 L480.4 78.89 L480.76 79.44 L481.12 80.03 L481.47 80.46 L481.83 81.02 L482.19 81.2 L482.55 81.67 L482.91 82.28 L483.26 82.76 L483.62 83.27 L483.98 83.58 L484.34 84.01 L484.7 84.25 L485.05 84.92 L485.41 85.63 L485.77 86.58 L486.13 87.12 L486.49 88.21 L486.84 89.35 L487.2 90.15 L487.56 91.29 L487.92 91.85 L488.28 93.22 L488.63 94.59 L488.99 96.1 L489.35 97.79 L489.71 99.19 L490.07 101.11 L490.42 102.97 L490.78 105.48 L491.14 107.71 L491.5 109.86 L491.86 112.14 L492.21 114.68 L492.57 116.86 L492.93 118.47 L493.29 120.31 L493.65 122.46 L494 124.24 L494.36 126.15 L494.72 128.31 L495.08 130.36 L495.44 132.26 L495.79 134.92 L496.15 136.96 L496.51 139.65 L496.87 141.27 L497.23 142.6 L497.58 143.12 L497.94 144.04 L498.3 144.71 L498.66 144.58 L499.02 144.93 L499.37 145.68 L499.73 146.17 L500.09 147.09 L500.45 147.95 L500.81 148.26 L501.16 148.87 L501.52 149.51 L501.88 150.05 L502.24 150.29 L502.6 150.06 L502.95 150.06 L503.31 150.14 L503.67 149.42 L504.03 149.48 L504.39 149.04 L504.74 148.49 L505.1 148.64 L505.46 148.56 L505.82 147.54 L506.18 147.79 L506.53 147.29 L506.89 147.75 L507.25 147.9 L507.61 148.4 L507.97 149.64 L508.32 149.36 L508.68 150.17 L509.04 150.56 L509.4 150.73 L509.76 150.56 L510.11 150.57 L510.47 150.48 L510.83 151.05 L511.19 150.56 L511.55 150.79 L511.9 149.89 L512.26 149.39 L512.62 149.42 L512.98 148.78 L513.34 148.37 L513.69 147.69 L514.05 147.66 L514.41 147.09 L514.77 146.46 L515.13 145.16 L515.48 144.73 L515.84 144.51 L516.2 143.98 L516.56 143.71 L516.92 143.57 L517.27 143.76 L517.63 144.08 L517.99 144.79 L518.35 145.23 L518.71 145.3 L519.06 146.31 L519.42 147.08 L519.78 147.66 L520.14 147.89 L520.5 147.86 L520.85 147.9 L521.21 147.17 L521.57 146.39 L521.93 145.68 L522.29 144.58 L522.64 143.46 L523 142.32 L523.36 140.73 L523.72 140.7 L524.08 139.44 L524.43 139.06 L524.79 138.82 L525.15 138.58 L525.51 138.44 L525.87 138.97 L526.22 139.33 L526.58 139.78 L526.94 139.95 L527.3 139.91 L527.66 140.43 L528.01 140.74 L528.37 140.82 L528.73 140.8 L529.09 140.9 L529.45 140.29 L529.8 140.6 L530.16 140.94 L530.52 140.72 L530.88 141.57 L531.24 141.49 L531.59 141.75 L531.95 142.59 L532.31 142.71 L532.67 142.5 L533.03 141.76 L533.38 141.13 L533.74 141 L534.1 139.37 L534.46 138.61 L534.82 137.43 L535.17 136.31 L535.53 135.13 L535.89 134.51 L536.25 133.38 L536.61 132.59 L536.96 131.28 L537.32 129.95 L537.68 128.81 L538.04 128.54 L538.4 127.82 L538.75 126.46 L539.11 125.47 L539.47 123.75 L539.83 122.84 L540.19 121.82 L540.54 120.15 L540.9 118.65 L541.26 117.2 L541.62 115.17 L541.98 113.13 L542.33 110.85 L542.69 108.24 L543.05 105.14 L543.41 101.61 L543.77 97.9 L544.12 93.69 L544.48 88.48 L544.84 83.3 L545.2 78.88 L545.56 73.67 L545.91 76.45 L546.27 77.34 L546.63 78.61 L546.99 79.12 L547.35 79.79 L547.7 80.17 L548.06 80.68 L548.42 81.1 L548.78 81.46 L549.14 82.07 L549.49 82.34 L549.85 83.01 L550.21 83.46 L550.57 83.75 L550.93 84.34 L551.28 84.74 L551.64 85.17 L552 85.84 L552.36 86.97 L552.72 87.7 L553.07 88.54 L553.43 89.57 L553.79 90.68 L554.15 91.71 L554.51 92.78 L554.86 94.09 L555.22 95.39 L555.58 96.86 L555.94 98.4 L556.3 99.96 L556.65 102.02 L557.01 104.29 L557.37 106.35 L557.73 108.9 L558.09 111.18 L558.44 113.17 L558.8 115.17 L559.16 117.28 L559.52 119.26 L559.88 121.03 L560.23 123.96 L560.59 126.51 L560.95 129.06 L561.31 132.17 L561.67 135.21 L562.02 137.99 L562.38 141.34 L562.74 143.2 L563.1 144.48 L563.46 145.16 L563.81 145.15 L564.17 145.24 L564.53 145.19 L564.89 144.87 L565.25 144.74 L565.6 144.54 L565.96 144.52 L566.32 145.06 L566.68 145.59 L567.04 146.08 L567.39 146.14 L567.75 146.76 L568.11 147.62 L568.47 148.47 L568.83 149.28 L569.18 150.28 L569.54 150.8 L569.9 151.87 L570.26 152.16 L570.62 152.74 L570.97 152.67 L571.33 153.2 L571.69 153.1 L572.05 152.87 L572.41 152.43 L572.76 152.77 L573.12 152.52 L573.48 151.68 L573.84 151.75 L574.2 150.79 L574.55 150.45 L574.91 149.63 L575.27 149.35 L575.63 147.91 L575.99 147.49 L576.34 146.91 L576.7 145.51 L577.06 145.4 L577.42 144.31 L577.78 144.95 L578.13 145.1 L578.49 145.05 L578.85 144.81 L579.21 145.47 L579.57 145.58 L579.92 145.79 L580.28 146.36 L580.64 146.22 L581 146.46 L581.36 146.68 L581.71 146.1 L582.07 146.14 L582.43 146.31 L582.79 146.62 L583.15 147.03 L583.5 146.54 L583.86 146.94 L584.22 147.64 L584.58 147.47 L584.94 148.09 L585.29 147.83 L585.65 147.8 L586.01 147.61 L586.37 147.34 L586.73 146.88 L587.08 146.62 L587.44 145.71 L587.8 145 L588.16 144.21 L588.52 143.45 L588.87 142.88 L589.23 142.34 L589.59 143.43 L589.95 142.82 L590.31 143.39 L590.66 143.31 L591.02 144.37 L591.38 145.81 L591.74 145.98 L592.1 146.84 L592.45 146.9 L592.81 147.71 L593.17 147.5 L593.53 147.33 L593.89 146.94 L594.24 146.53 L594.6 146.22 L594.96 144.89 L595.32 144.02 L595.68 143.62 L596.03 143.26 L596.39 142.4 L596.75 141.87 L597.11 141.72 L597.47 141.39 L597.82 140.79 L598.18 141.27 L598.54 140.94 L598.9 141.12 L599.26 140.64 L599.61 140.5 L599.97 140.44 L600.33 140.3 L600.69 139.63 L601.05 140.23 L601.4 140.35 L601.76 139.94 L602.12 140.82 L602.48 141.57 L602.84 141.28 L603.19 141.86 L603.55 141.28 L603.91 142.02 L604.27 141.63 L604.63 141.51 L604.98 140.47 L605.34 139.97 L605.7 138.7 L606.06 137.56 L606.42 136.32 L606.77 134.62 L607.13 133.47 L607.49 132.7 L607.85 132.13 L608.21 131.54 L608.56 130.71 L608.92 129.74 L609.28 130.08 L609.64 129.64 L610 128.92 L610.35 128.16 L610.71 127.16 L611.07 125.94 L611.43 124.46 L611.79 123.55 L612.14 122.4 L612.5 121.31 L612.86 119.63 L613.22 118.18 L613.58 116.72 L613.93 114.96 L614.29 113 L614.65 110.75 L615.01 108.19 L615.37 105.09 L615.72 101.65 L616.08 97.83 L616.44 93.71 L616.8 88.7 L617.16 83.94 L617.51 79.58 L617.87 74.48 L618.23 76.78 L618.59 77.4 L618.95 78.51 L619.3 79.21 L619.66 79.79 L620.02 80.34 L620.38 80.76 L620.74 80.91 L621.09 81.51 L621.45 81.97 L621.81 82.4 L622.17 82.88 L622.53 83.28 L622.88 83.84 L623.24 84.26 L623.6 84.61 L623.96 85.28 L624.32 86.08 L624.67 86.82 L625.03 87.79 L625.39 88.66 L625.75 89.75 L626.11 90.76 L626.46 91.69 L626.82 92.6 L627.18 93.99 L627.54 95.35 L627.9 96.84 L628.25 98.36 L628.61 99.99 L628.97 101.87 L629.33 104.31 L629.69 106.32 L630.04 108.8 L630.4 111.17 L630.76 112.64 L631.12 114.59 L631.48 115.96 L631.83 117.87 L632.19 120.2 L632.55 122.15 L632.91 124.62 L633.27 127.64 L633.62 131.27 L633.98 133.97 L634.34 137 L634.7 140.11 L635.06 141.77 L635.41 144.17 L635.77 145.31 L636.13 145.85 L636.49 146.24 L636.85 146.42 L637.2 146.35 L637.56 146.5 L637.92 147.01 L638.28 147.29 L638.64 148.1 L638.99 148.07 L639.35 148.84 L639.71 148.98 L640.07 149.64 L640.43 149.88 L640.78 149.99 L641.14 150.62 L641.5 149.82 L641.86 150.62 L642.22 150.71 L642.57 150.96 L642.93 150.4 L643.29 150.51 L643.65 150.81 L644.01 151.2 L644.36 150.87 L644.72 150.46 L645.08 150.67 L645.44 150.76 L645.8 150.64 L646.15 150.38 L646.51 149.97 L646.87 149.9 L647.23 149.44 L647.59 148.39 L647.94 148.34 L648.3 148.79 L648.66 148.14 L649.02 147.97 L649.38 147.83 L649.73 147.35 L650.09 147.57 L650.45 147.43 L650.81 147.28 L651.17 146.99 L651.52 146.35 L651.88 146.15 L652.24 146.31 L652.6 145.61 L652.96 145.23 L653.31 144.34 L653.67 144.11 L654.03 143.65 L654.39 143.76 L654.75 144.29 L655.1 143.87 L655.46 144.31 L655.82 144.75 L656.18 145.85 L656.54 146.12 L656.89 146.94 L657.25 147.44 L657.61 147.49 L657.97 147.6 L658.33 147.81 L658.68 147.65 L659.04 147.24 L659.4 145.94 L659.76 144.55 L660.12 143.87 L660.47 143.47 L660.83 142.19 L661.19 141.08 L661.55 140.16 L661.91 139.92 L662.26 139.95 L662.62 140.01 L662.98 140.51 L663.34 140.63 L663.7 140.95 L664.05 141.43 L664.41 141.56 L664.77 142 L665.13 142.06 L665.49 141.97 L665.84 142.31 L666.2 142.52 L666.56 142.8 L666.92 143.25 L667.28 142.97 L667.63 142.9 L667.99 143.41 L668.35 142.86 L668.71 143.29 L669.07 143 L669.42 142.98 L669.78 142.87 L670.14 141.48 L670.5 141.71 L670.86 140.4 L671.21 139.92 L671.57 138.71 L671.93 137.91 L672.29 136.69 L672.65 135.29 L673 134.15 L673.36 134.24 L673.72 133.56 L674.08 133.04 L674.44 133.36 L674.79 132.95 L675.15 133.23 L675.51 132.5 L675.87 131.85 L676.23 130.69 L676.58 129.69 L676.94 128.67 L677.3 126.77 L677.66 125.56 L678.02 123.59 L678.37 121.88 L678.73 120.45 L679.09 119.01 L679.45 117.03 L679.81 115.44 L680.16 113.88 L680.52 111.95 L680.88 109.51 L681.24 106.77 L681.6 103.39 L681.95 99.84 L682.31 96.14 L682.67 91.83 L683.03 86.96 L683.39 82.41 L683.74 76.49 L684.1 77.6 L684.46 77.26 L684.82 78.13 L685.18 78.83 L685.53 79.4 L685.89 80.02 L686.25 80.49 L686.61 80.86 L686.97 81.19 L687.32 81.96 L687.68 82.28 L688.04 82.78 L688.4 83.11 L688.76 83.46 L689.11 84.06 L689.47 84.57 L689.83 84.94 L690.19 85.58 L690.55 86.49 L690.9 87.17 L691.26 88.28 L691.62 89.14 L691.98 90.29 L692.34 91.04 L692.69 92.31 L693.05 93.22 L693.41 94.82 L693.77 95.96 L694.13 97.62 L694.48 99.33 L694.84 100.99 L695.2 103 L695.56 105.37 L695.92 107.67 L696.27 109.94 L696.63 112.26 L696.99 114.83 L697.35 116.81 L697.71 119.06 L698.06 121.53 L698.42 123.91 L698.78 126.83 L699.14 128.71 L699.5 131.64 L699.85 134.17 L700.21 136.02 L700.57 137.87 L700.93 139.65 L701.29 141.03 L701.64 141.29 L702 141.73 L702.36 142.46 L702.72 142.41 L703.08 142.35 L703.43 143.01 L703.79 143.74 L704.15 144.62 L704.51 145.86 L704.87 146.61 L705.22 148.27 L705.58 149.15 L705.94 149.74 L706.3 150.27 L706.66 150.74 L707.01 150.87 L707.37 151.56 L707.73 151.15 L708.09 151.28 L708.45 151.57 L708.8 151.2 L709.16 150.48 L709.52 150.71 L709.88 150.93 L710.24 151.31 L710.59 150.72 L710.95 150.57 L711.31 150.2 L711.67 149.4 L712.03 149.56 L712.38 149.36 L712.74 149.32 L713.1 148.99" fill="none" stroke="#0808f8" stroke-width="1.0" stroke-linejoin="round"/>
<text x="579" y="219" font-size="12.7" font-weight="bold" text-anchor="middle" fill="#000" stroke="#000" stroke-width="0.25">Time (seconds)</text>
<text transform="translate(411.2 118.3) rotate(-90)" font-size="12.7" font-weight="bold" text-anchor="middle" fill="#000" stroke="#000" stroke-width="0.25">Membrane Potential (mV)</text>
<text x="578.6" y="15.2" font-size="12.65" font-weight="bold" text-anchor="middle" fill="#000" stroke="#000" stroke-width="0.25">AP Traces Across Pressure</text>
<text x="408.8" y="16.1" font-size="17.5" font-weight="bold" text-anchor="start" fill="#000" stroke="#000" stroke-width="0.25">C</text>
<line x1="451" y1="40.25" x2="465.6" y2="40.25" stroke="#0808f8" stroke-width="0.8"/>
<text x="473.6" y="44.6" font-size="11" font-weight="normal" text-anchor="start" fill="#000">0.5 cmH<tspan font-size="7.92" dy="3.3">2</tspan><tspan dy="-3.3">&#8203;</tspan>O</text>
<line x1="549.2" y1="40.25" x2="563.6" y2="40.25" stroke="#00f200" stroke-width="0.8"/>
<text x="570.6" y="44.6" font-size="11" font-weight="normal" text-anchor="start" fill="#000">2.0 cmH<tspan font-size="7.92" dy="3.3">2</tspan><tspan dy="-3.3">&#8203;</tspan>O</text>
<line x1="644.2" y1="40.25" x2="658.4" y2="40.25" stroke="#ff00f0" stroke-width="0.8"/>
<text x="666.2" y="44.6" font-size="11" font-weight="normal" text-anchor="start" fill="#000">5.0 cmH<tspan font-size="7.92" dy="3.3">2</tspan><tspan dy="-3.3">&#8203;</tspan>O</text>
<line x1="43.3" y1="293.43" x2="43.3" y2="462.98" stroke="#000" stroke-width="1.75"/>
<line x1="36.1" y1="462.1" x2="154.9" y2="462.1" stroke="#000" stroke-width="1.75"/>
<line x1="36.1" y1="294.3" x2="43.3" y2="294.3" stroke="#000" stroke-width="1.55"/>
<text x="33.2" y="298.95" font-size="12.6" font-weight="bold" text-anchor="end" fill="#000" stroke="#000" stroke-width="0.25">60</text>
<line x1="36.1" y1="350.23" x2="43.3" y2="350.23" stroke="#000" stroke-width="1.55"/>
<text x="33.2" y="354.88" font-size="12.6" font-weight="bold" text-anchor="end" fill="#000" stroke="#000" stroke-width="0.25">40</text>
<line x1="36.1" y1="406.17" x2="43.3" y2="406.17" stroke="#000" stroke-width="1.55"/>
<text x="33.2" y="410.82" font-size="12.6" font-weight="bold" text-anchor="end" fill="#000" stroke="#000" stroke-width="0.25">20</text>
<line x1="36.1" y1="462.1" x2="43.3" y2="462.1" stroke="#000" stroke-width="1.55"/>
<text x="33.2" y="466.75" font-size="12.6" font-weight="bold" text-anchor="end" fill="#000" stroke="#000" stroke-width="0.25">0</text>
<line x1="59.2" y1="462.1" x2="59.2" y2="468.9" stroke="#000" stroke-width="1.7"/>
<text x="59.2" y="485.05" font-size="13.7" font-weight="bold" text-anchor="middle" fill="#000" stroke="#000" stroke-width="0.25">0.5</text>
<line x1="99.2" y1="462.1" x2="99.2" y2="468.9" stroke="#000" stroke-width="1.7"/>
<text x="99.2" y="485.05" font-size="13.7" font-weight="bold" text-anchor="middle" fill="#000" stroke="#000" stroke-width="0.25">2.0</text>
<line x1="139.1" y1="462.1" x2="139.1" y2="468.9" stroke="#000" stroke-width="1.7"/>
<text x="139.1" y="485.05" font-size="13.7" font-weight="bold" text-anchor="middle" fill="#000" stroke="#000" stroke-width="0.25">5.0</text>
<text x="99.2" y="502" font-size="13.6" font-weight="bold" text-anchor="middle" fill="#000" stroke="#000" stroke-width="0.25">Pressure (cmH<tspan font-size="9.79" dy="4.08">2</tspan><tspan dy="-4.08">&#8203;</tspan>O)</text>
<text transform="translate(10.6 378.2) rotate(-90)" font-size="13.6" font-weight="bold" text-anchor="middle" fill="#000" stroke="#000" stroke-width="0.25">APs per Min</text>
<text x="99.6" y="272.6" font-size="15.85" font-weight="bold" text-anchor="middle" fill="#000" stroke="#000" stroke-width="0.25">Freq</text>
<text x="5.4" y="263.2" font-size="17.5" font-weight="bold" text-anchor="start" fill="#000" stroke="#000" stroke-width="0.25">D</text>
<line x1="59.3" y1="401.8" x2="59.3" y2="413.2" stroke="#000" stroke-width="1.1"/>
<line x1="55.1" y1="401.8" x2="63.5" y2="401.8" stroke="#000" stroke-width="1.1"/>
<line x1="55.1" y1="413.2" x2="63.5" y2="413.2" stroke="#000" stroke-width="1.1"/>
<line x1="51.2" y1="407.3" x2="67.4" y2="407.3" stroke="#000" stroke-width="1.5"/>
<circle cx="59.3" cy="393.1" r="2.6"/>
<circle cx="54" cy="401.6" r="2.6"/>
<circle cx="64.7" cy="400.8" r="2.6"/>
<circle cx="59.3" cy="414" r="2.6"/>
<circle cx="59.3" cy="427.4" r="2.6"/>
<line x1="99.3" y1="381.2" x2="99.3" y2="392.8" stroke="#000" stroke-width="1.1"/>
<line x1="95.1" y1="381.2" x2="103.5" y2="381.2" stroke="#000" stroke-width="1.1"/>
<line x1="95.1" y1="392.8" x2="103.5" y2="392.8" stroke="#000" stroke-width="1.1"/>
<line x1="91.2" y1="386.7" x2="107.4" y2="386.7" stroke="#000" stroke-width="1.5"/>
<circle cx="96.6" cy="367.1" r="2.6"/>
<circle cx="102.2" cy="367.1" r="2.6"/>
<circle cx="99.3" cy="375.7" r="2.6"/>
<circle cx="93.9" cy="378.9" r="2.6"/>
<circle cx="104.9" cy="377.3" r="2.6"/>
<circle cx="99.3" cy="396.5" r="2.6"/>
<circle cx="99.3" cy="402.4" r="2.6"/>
<circle cx="96.6" cy="410.3" r="2.6"/>
<circle cx="102.2" cy="408.7" r="2.6"/>
<line x1="139.1" y1="358.5" x2="139.1" y2="376.5" stroke="#000" stroke-width="1.1"/>
<line x1="134.9" y1="358.5" x2="143.3" y2="358.5" stroke="#000" stroke-width="1.1"/>
<line x1="134.9" y1="376.5" x2="143.3" y2="376.5" stroke="#000" stroke-width="1.1"/>
<line x1="131" y1="367.6" x2="147.2" y2="367.6" stroke="#000" stroke-width="1.5"/>
<circle cx="139.1" cy="327.9" r="2.6"/>
<circle cx="139.1" cy="359.8" r="2.6"/>
<circle cx="139.1" cy="368.9" r="2.6"/>
<circle cx="139.1" cy="376.4" r="2.6"/>
<circle cx="139.1" cy="383.2" r="2.6"/>
<circle cx="139.1" cy="388.8" r="2.6"/>
<line x1="58.6" y1="300" x2="139.9" y2="300" stroke="#000" stroke-width="1.55"/>
<line x1="58.6" y1="336.2" x2="100.2" y2="336.2" stroke="#000" stroke-width="1.55"/>
<line x1="245.8" y1="292.93" x2="245.8" y2="462.98" stroke="#000" stroke-width="1.75"/>
<line x1="238.6" y1="462.1" x2="358.3" y2="462.1" stroke="#000" stroke-width="1.75"/>
<line x1="238.6" y1="293.8" x2="245.8" y2="293.8" stroke="#000" stroke-width="1.55"/>
<text x="235.7" y="298.45" font-size="12.6" font-weight="bold" text-anchor="end" fill="#000" stroke="#000" stroke-width="0.25">40</text>
<line x1="238.6" y1="335.88" x2="245.8" y2="335.88" stroke="#000" stroke-width="1.55"/>
<text x="235.7" y="340.52" font-size="12.6" font-weight="bold" text-anchor="end" fill="#000" stroke="#000" stroke-width="0.25">30</text>
<line x1="238.6" y1="377.95" x2="245.8" y2="377.95" stroke="#000" stroke-width="1.55"/>
<text x="235.7" y="382.6" font-size="12.6" font-weight="bold" text-anchor="end" fill="#000" stroke="#000" stroke-width="0.25">20</text>
<line x1="238.6" y1="420.03" x2="245.8" y2="420.03" stroke="#000" stroke-width="1.55"/>
<text x="235.7" y="424.68" font-size="12.6" font-weight="bold" text-anchor="end" fill="#000" stroke="#000" stroke-width="0.25">10</text>
<line x1="238.6" y1="462.1" x2="245.8" y2="462.1" stroke="#000" stroke-width="1.55"/>
<text x="235.7" y="466.75" font-size="12.6" font-weight="bold" text-anchor="end" fill="#000" stroke="#000" stroke-width="0.25">0</text>
<line x1="261.6" y1="462.1" x2="261.6" y2="468.9" stroke="#000" stroke-width="1.7"/>
<text x="261.6" y="485.05" font-size="13.7" font-weight="bold" text-anchor="middle" fill="#000" stroke="#000" stroke-width="0.25">0.5</text>
<line x1="301.7" y1="462.1" x2="301.7" y2="468.9" stroke="#000" stroke-width="1.7"/>
<text x="301.7" y="485.05" font-size="13.7" font-weight="bold" text-anchor="middle" fill="#000" stroke="#000" stroke-width="0.25">2.0</text>
<line x1="341.8" y1="462.1" x2="341.8" y2="468.9" stroke="#000" stroke-width="1.7"/>
<text x="341.8" y="485.05" font-size="13.7" font-weight="bold" text-anchor="middle" fill="#000" stroke="#000" stroke-width="0.25">5.0</text>
<text x="301.7" y="502" font-size="13.6" font-weight="bold" text-anchor="middle" fill="#000" stroke="#000" stroke-width="0.25">Pressure (cmH<tspan font-size="9.79" dy="4.08">2</tspan><tspan dy="-4.08">&#8203;</tspan>O)</text>
<text transform="translate(212.7 377.95) rotate(-90)" font-size="13.6" font-weight="bold" text-anchor="middle" fill="#000" stroke="#000" stroke-width="0.25">mV / s</text>
<text x="301.8" y="271.6" font-size="15.85" font-weight="bold" text-anchor="middle" fill="#000" stroke="#000" stroke-width="0.25">Diastolic Depol</text>
<text x="194.4" y="263.2" font-size="17.5" font-weight="bold" text-anchor="start" fill="#000" stroke="#000" stroke-width="0.25">E</text>
<line x1="261.7" y1="435.6" x2="261.7" y2="444.4" stroke="#000" stroke-width="1.1"/>
<line x1="257.5" y1="435.6" x2="265.9" y2="435.6" stroke="#000" stroke-width="1.1"/>
<line x1="257.5" y1="444.4" x2="265.9" y2="444.4" stroke="#000" stroke-width="1.1"/>
<line x1="253.6" y1="439.9" x2="269.8" y2="439.9" stroke="#000" stroke-width="1.5"/>
<circle cx="256.4" cy="429.6" r="2.6"/>
<circle cx="267.1" cy="434" r="2.6"/>
<circle cx="256.4" cy="437.2" r="2.6"/>
<circle cx="261.8" cy="445.7" r="2.6"/>
<circle cx="261.8" cy="452.8" r="2.6"/>
<line x1="301.8" y1="414.1" x2="301.8" y2="424.1" stroke="#000" stroke-width="1.1"/>
<line x1="297.6" y1="414.1" x2="306" y2="414.1" stroke="#000" stroke-width="1.1"/>
<line x1="297.6" y1="424.1" x2="306" y2="424.1" stroke="#000" stroke-width="1.1"/>
<line x1="293.7" y1="418.9" x2="309.9" y2="418.9" stroke="#000" stroke-width="1.5"/>
<circle cx="296.3" cy="401" r="2.6"/>
<circle cx="301.8" cy="401" r="2.6"/>
<circle cx="307.3" cy="400.2" r="2.6"/>
<circle cx="301.8" cy="413.6" r="2.6"/>
<circle cx="296.3" cy="427.6" r="2.6"/>
<circle cx="301.8" cy="426.5" r="2.6"/>
<circle cx="307.3" cy="430.4" r="2.6"/>
<circle cx="301.8" cy="432.4" r="2.6"/>
<circle cx="301.8" cy="438.8" r="2.6"/>
<line x1="341.9" y1="386.5" x2="341.9" y2="403.4" stroke="#000" stroke-width="1.1"/>
<line x1="337.7" y1="386.5" x2="346.1" y2="386.5" stroke="#000" stroke-width="1.1"/>
<line x1="337.7" y1="403.4" x2="346.1" y2="403.4" stroke="#000" stroke-width="1.1"/>
<line x1="333.8" y1="395" x2="350" y2="395" stroke="#000" stroke-width="1.5"/>
<circle cx="336.4" cy="372.5" r="2.6"/>
<circle cx="347.3" cy="370.3" r="2.6"/>
<circle cx="342" cy="390.2" r="2.6"/>
<circle cx="342" cy="406.9" r="2.6"/>
<circle cx="336.4" cy="414.6" r="2.6"/>
<circle cx="347.3" cy="414.6" r="2.6"/>
<line x1="261.2" y1="313.3" x2="342.7" y2="313.3" stroke="#000" stroke-width="1.55"/>
<line x1="261.2" y1="350.3" x2="299" y2="350.3" stroke="#000" stroke-width="1.55"/>
<line x1="304.8" y1="350.3" x2="342.7" y2="350.3" stroke="#000" stroke-width="1.55"/>
<line x1="51.5" y1="564.92" x2="51.5" y2="734.58" stroke="#000" stroke-width="1.75"/>
<line x1="44.3" y1="733.7" x2="164.5" y2="733.7" stroke="#000" stroke-width="1.75"/>
<line x1="44.3" y1="565.8" x2="51.5" y2="565.8" stroke="#000" stroke-width="1.55"/>
<text x="41.4" y="570.45" font-size="12.6" font-weight="bold" text-anchor="end" fill="#000" stroke="#000" stroke-width="0.25">0</text>
<line x1="44.3" y1="599.38" x2="51.5" y2="599.38" stroke="#000" stroke-width="1.55"/>
<text x="41.4" y="604.03" font-size="12.6" font-weight="bold" text-anchor="end" fill="#000" stroke="#000" stroke-width="0.25">-10</text>
<line x1="44.3" y1="632.96" x2="51.5" y2="632.96" stroke="#000" stroke-width="1.55"/>
<text x="41.4" y="637.61" font-size="12.6" font-weight="bold" text-anchor="end" fill="#000" stroke="#000" stroke-width="0.25">-20</text>
<line x1="44.3" y1="666.54" x2="51.5" y2="666.54" stroke="#000" stroke-width="1.55"/>
<text x="41.4" y="671.19" font-size="12.6" font-weight="bold" text-anchor="end" fill="#000" stroke="#000" stroke-width="0.25">-30</text>
<line x1="44.3" y1="700.12" x2="51.5" y2="700.12" stroke="#000" stroke-width="1.55"/>
<text x="41.4" y="704.77" font-size="12.6" font-weight="bold" text-anchor="end" fill="#000" stroke="#000" stroke-width="0.25">-40</text>
<line x1="44.3" y1="733.7" x2="51.5" y2="733.7" stroke="#000" stroke-width="1.55"/>
<text x="41.4" y="738.35" font-size="12.6" font-weight="bold" text-anchor="end" fill="#000" stroke="#000" stroke-width="0.25">-50</text>
<line x1="53.1" y1="565.8" x2="164" y2="565.8" stroke="#000" stroke-width="1.3" stroke-dasharray="1.5 1.5"/>
<line x1="67.7" y1="733.7" x2="67.7" y2="740.5" stroke="#000" stroke-width="1.7"/>
<text x="67.7" y="756.65" font-size="13.7" font-weight="bold" text-anchor="middle" fill="#000" stroke="#000" stroke-width="0.25">0.5</text>
<line x1="107.6" y1="733.7" x2="107.6" y2="740.5" stroke="#000" stroke-width="1.7"/>
<text x="107.6" y="756.65" font-size="13.7" font-weight="bold" text-anchor="middle" fill="#000" stroke="#000" stroke-width="0.25">2.0</text>
<line x1="147.7" y1="733.7" x2="147.7" y2="740.5" stroke="#000" stroke-width="1.7"/>
<text x="147.7" y="756.65" font-size="13.7" font-weight="bold" text-anchor="middle" fill="#000" stroke="#000" stroke-width="0.25">5.0</text>
<text x="107.6" y="773.6" font-size="13.6" font-weight="bold" text-anchor="middle" fill="#000" stroke="#000" stroke-width="0.25">Pressure (cmH<tspan font-size="9.79" dy="4.08">2</tspan><tspan dy="-4.08">&#8203;</tspan>O)</text>
<text transform="translate(10.6 649.75) rotate(-90)" font-size="13.6" font-weight="bold" text-anchor="middle" fill="#000" stroke="#000" stroke-width="0.25">V<tspan font-size="9.79" dy="4.08">m</tspan><tspan dy="-4.08">&#8203;</tspan> (mV)</text>
<text x="108" y="544" font-size="15.85" font-weight="bold" text-anchor="middle" fill="#000" stroke="#000" stroke-width="0.25">Min mV</text>
<text x="6" y="536.1" font-size="17.5" font-weight="bold" text-anchor="start" fill="#000" stroke="#000" stroke-width="0.25">G</text>
<line x1="67.8" y1="694.5" x2="67.8" y2="700.6" stroke="#000" stroke-width="1.1"/>
<line x1="63.6" y1="694.5" x2="72" y2="694.5" stroke="#000" stroke-width="1.1"/>
<line x1="63.6" y1="700.6" x2="72" y2="700.6" stroke="#000" stroke-width="1.1"/>
<line x1="59.7" y1="697.4" x2="75.9" y2="697.4" stroke="#000" stroke-width="1.5"/>
<circle cx="67.8" cy="687.3" r="2.6"/>
<circle cx="73.2" cy="695" r="2.6"/>
<circle cx="62.2" cy="699" r="2.6"/>
<circle cx="73.2" cy="702.6" r="2.6"/>
<circle cx="62.2" cy="705.8" r="2.6"/>
<line x1="107.6" y1="690.2" x2="107.6" y2="702.2" stroke="#000" stroke-width="1.1"/>
<line x1="103.4" y1="690.2" x2="111.8" y2="690.2" stroke="#000" stroke-width="1.1"/>
<line x1="103.4" y1="702.2" x2="111.8" y2="702.2" stroke="#000" stroke-width="1.1"/>
<line x1="99.5" y1="696.1" x2="115.7" y2="696.1" stroke="#000" stroke-width="1.5"/>
<circle cx="107.6" cy="664.2" r="2.6"/>
<circle cx="102.4" cy="681" r="2.6"/>
<circle cx="113.2" cy="681" r="2.6"/>
<circle cx="107.6" cy="691.3" r="2.6"/>
<circle cx="102.4" cy="701.4" r="2.6"/>
<circle cx="113.2" cy="700.6" r="2.6"/>
<circle cx="102.4" cy="712.5" r="2.6"/>
<circle cx="113.2" cy="715.7" r="2.6"/>
<circle cx="102.4" cy="720" r="2.6"/>
<line x1="147.8" y1="682.7" x2="147.8" y2="699" stroke="#000" stroke-width="1.1"/>
<line x1="143.6" y1="682.7" x2="152" y2="682.7" stroke="#000" stroke-width="1.1"/>
<line x1="143.6" y1="699" x2="152" y2="699" stroke="#000" stroke-width="1.1"/>
<line x1="139.7" y1="691" x2="155.9" y2="691" stroke="#000" stroke-width="1.5"/>
<circle cx="147.8" cy="661.2" r="2.6"/>
<circle cx="147.8" cy="679" r="2.6"/>
<circle cx="147.8" cy="686.7" r="2.6"/>
<circle cx="147.8" cy="694.7" r="2.6"/>
<circle cx="153" cy="710.4" r="2.6"/>
<circle cx="142.2" cy="713.3" r="2.6"/>
<line x1="253.7" y1="565.23" x2="253.7" y2="734.58" stroke="#000" stroke-width="1.75"/>
<line x1="246.5" y1="733.7" x2="366.1" y2="733.7" stroke="#000" stroke-width="1.75"/>
<line x1="246.5" y1="566.1" x2="253.7" y2="566.1" stroke="#000" stroke-width="1.55"/>
<text x="243.6" y="570.75" font-size="12.6" font-weight="bold" text-anchor="end" fill="#000" stroke="#000" stroke-width="0.25">0</text>
<line x1="246.5" y1="599.62" x2="253.7" y2="599.62" stroke="#000" stroke-width="1.55"/>
<text x="243.6" y="604.27" font-size="12.6" font-weight="bold" text-anchor="end" fill="#000" stroke="#000" stroke-width="0.25">-10</text>
<line x1="246.5" y1="633.14" x2="253.7" y2="633.14" stroke="#000" stroke-width="1.55"/>
<text x="243.6" y="637.79" font-size="12.6" font-weight="bold" text-anchor="end" fill="#000" stroke="#000" stroke-width="0.25">-20</text>
<line x1="246.5" y1="666.66" x2="253.7" y2="666.66" stroke="#000" stroke-width="1.55"/>
<text x="243.6" y="671.31" font-size="12.6" font-weight="bold" text-anchor="end" fill="#000" stroke="#000" stroke-width="0.25">-30</text>
<line x1="246.5" y1="700.18" x2="253.7" y2="700.18" stroke="#000" stroke-width="1.55"/>
<text x="243.6" y="704.83" font-size="12.6" font-weight="bold" text-anchor="end" fill="#000" stroke="#000" stroke-width="0.25">-40</text>
<line x1="246.5" y1="733.7" x2="253.7" y2="733.7" stroke="#000" stroke-width="1.55"/>
<text x="243.6" y="738.35" font-size="12.6" font-weight="bold" text-anchor="end" fill="#000" stroke="#000" stroke-width="0.25">-50</text>
<line x1="255.3" y1="566.1" x2="365.6" y2="566.1" stroke="#000" stroke-width="1.3" stroke-dasharray="1.5 1.5"/>
<line x1="269.7" y1="733.7" x2="269.7" y2="740.5" stroke="#000" stroke-width="1.7"/>
<text x="269.7" y="756.65" font-size="13.7" font-weight="bold" text-anchor="middle" fill="#000" stroke="#000" stroke-width="0.25">0.5</text>
<line x1="309.5" y1="733.7" x2="309.5" y2="740.5" stroke="#000" stroke-width="1.7"/>
<text x="309.5" y="756.65" font-size="13.7" font-weight="bold" text-anchor="middle" fill="#000" stroke="#000" stroke-width="0.25">2.0</text>
<line x1="349.7" y1="733.7" x2="349.7" y2="740.5" stroke="#000" stroke-width="1.7"/>
<text x="349.7" y="756.65" font-size="13.7" font-weight="bold" text-anchor="middle" fill="#000" stroke="#000" stroke-width="0.25">5.0</text>
<text x="309.5" y="773.6" font-size="13.6" font-weight="bold" text-anchor="middle" fill="#000" stroke="#000" stroke-width="0.25">Pressure (cmH<tspan font-size="9.79" dy="4.08">2</tspan><tspan dy="-4.08">&#8203;</tspan>O)</text>
<text transform="translate(213.5 649.9) rotate(-90)" font-size="13.6" font-weight="bold" text-anchor="middle" fill="#000" stroke="#000" stroke-width="0.25">V<tspan font-size="9.79" dy="4.08">m</tspan><tspan dy="-4.08">&#8203;</tspan> (mV)</text>
<text x="310.2" y="543.8" font-size="15.85" font-weight="bold" text-anchor="middle" fill="#000" stroke="#000" stroke-width="0.25">Thresh mV</text>
<text x="194.4" y="535.9" font-size="17.5" font-weight="bold" text-anchor="start" fill="#000" stroke="#000" stroke-width="0.25">H</text>
<line x1="269.7" y1="663.9" x2="269.7" y2="666.3" stroke="#000" stroke-width="1.1"/>
<line x1="265.5" y1="663.9" x2="273.9" y2="663.9" stroke="#000" stroke-width="1.1"/>
<line x1="265.5" y1="666.3" x2="273.9" y2="666.3" stroke="#000" stroke-width="1.1"/>
<line x1="261.6" y1="665.1" x2="277.8" y2="665.1" stroke="#000" stroke-width="1.5"/>
<circle cx="264.1" cy="663.8" r="2.6"/>
<circle cx="268.1" cy="662.7" r="2.6"/>
<circle cx="275.3" cy="663.5" r="2.6"/>
<circle cx="271.3" cy="667" r="2.6"/>
<circle cx="268.1" cy="669.4" r="2.6"/>
<line x1="309.9" y1="655.4" x2="309.9" y2="663" stroke="#000" stroke-width="1.1"/>
<line x1="305.7" y1="655.4" x2="314.1" y2="655.4" stroke="#000" stroke-width="1.1"/>
<line x1="305.7" y1="663" x2="314.1" y2="663" stroke="#000" stroke-width="1.1"/>
<line x1="301.8" y1="659" x2="318" y2="659" stroke="#000" stroke-width="1.5"/>
<circle cx="304.3" cy="646" r="2.6"/>
<circle cx="307.6" cy="646" r="2.6"/>
<circle cx="315.1" cy="646" r="2.6"/>
<circle cx="311.5" cy="650.3" r="2.6"/>
<circle cx="309.5" cy="663" r="2.6"/>
<circle cx="307.9" cy="668.3" r="2.6"/>
<circle cx="311.9" cy="670.2" r="2.6"/>
<circle cx="315.1" cy="670.2" r="2.6"/>
<circle cx="304.3" cy="672.3" r="2.6"/>
<line x1="349.7" y1="651.4" x2="349.7" y2="666.2" stroke="#000" stroke-width="1.1"/>
<line x1="345.5" y1="651.4" x2="353.9" y2="651.4" stroke="#000" stroke-width="1.1"/>
<line x1="345.5" y1="666.2" x2="353.9" y2="666.2" stroke="#000" stroke-width="1.1"/>
<line x1="341.6" y1="658.6" x2="357.8" y2="658.6" stroke="#000" stroke-width="1.5"/>
<circle cx="349.7" cy="637.5" r="2.6"/>
<circle cx="349.7" cy="643.9" r="2.6"/>
<circle cx="349.7" cy="651.9" r="2.6"/>
<circle cx="349.7" cy="660.6" r="2.6"/>
<circle cx="349.7" cy="671.8" r="2.6"/>
<circle cx="349.7" cy="686.1" r="2.6"/>
<line x1="464" y1="565.42" x2="464" y2="734.48" stroke="#000" stroke-width="1.75"/>
<line x1="456.8" y1="733.6" x2="575.9" y2="733.6" stroke="#000" stroke-width="1.75"/>
<line x1="456.8" y1="566.3" x2="464" y2="566.3" stroke="#000" stroke-width="1.55"/>
<text x="453.9" y="570.95" font-size="12.6" font-weight="bold" text-anchor="end" fill="#000" stroke="#000" stroke-width="0.25">200</text>
<line x1="456.8" y1="608.12" x2="464" y2="608.12" stroke="#000" stroke-width="1.55"/>
<text x="453.9" y="612.77" font-size="12.6" font-weight="bold" text-anchor="end" fill="#000" stroke="#000" stroke-width="0.25">150</text>
<line x1="456.8" y1="649.95" x2="464" y2="649.95" stroke="#000" stroke-width="1.55"/>
<text x="453.9" y="654.6" font-size="12.6" font-weight="bold" text-anchor="end" fill="#000" stroke="#000" stroke-width="0.25">100</text>
<line x1="456.8" y1="691.77" x2="464" y2="691.77" stroke="#000" stroke-width="1.55"/>
<text x="453.9" y="696.42" font-size="12.6" font-weight="bold" text-anchor="end" fill="#000" stroke="#000" stroke-width="0.25">50</text>
<line x1="456.8" y1="733.6" x2="464" y2="733.6" stroke="#000" stroke-width="1.55"/>
<text x="453.9" y="738.25" font-size="12.6" font-weight="bold" text-anchor="end" fill="#000" stroke="#000" stroke-width="0.25">0</text>
<line x1="479.6" y1="733.6" x2="479.6" y2="740.4" stroke="#000" stroke-width="1.7"/>
<text x="479.6" y="756.55" font-size="13.7" font-weight="bold" text-anchor="middle" fill="#000" stroke="#000" stroke-width="0.25">0.5</text>
<line x1="519.5" y1="733.6" x2="519.5" y2="740.4" stroke="#000" stroke-width="1.7"/>
<text x="519.5" y="756.55" font-size="13.7" font-weight="bold" text-anchor="middle" fill="#000" stroke="#000" stroke-width="0.25">2.0</text>
<line x1="559.6" y1="733.6" x2="559.6" y2="740.4" stroke="#000" stroke-width="1.7"/>
<text x="559.6" y="756.55" font-size="13.7" font-weight="bold" text-anchor="middle" fill="#000" stroke="#000" stroke-width="0.25">5.0</text>
<text x="519.5" y="773.5" font-size="13.6" font-weight="bold" text-anchor="middle" fill="#000" stroke="#000" stroke-width="0.25">Pressure (cmH<tspan font-size="9.79" dy="4.08">2</tspan><tspan dy="-4.08">&#8203;</tspan>O)</text>
<text transform="translate(424.2 649.95) rotate(-90)" font-size="13.6" font-weight="bold" text-anchor="middle" fill="#000" stroke="#000" stroke-width="0.25">Tau</text>
<text x="520" y="544.3" font-size="15.85" font-weight="bold" text-anchor="middle" fill="#000" stroke="#000" stroke-width="0.25">Upstroke Constant</text>
<text x="408.6" y="536" font-size="17.5" font-weight="bold" text-anchor="start" fill="#000" stroke="#000" stroke-width="0.25">I</text>
<line x1="479.7" y1="650.6" x2="479.7" y2="678.5" stroke="#000" stroke-width="1.1"/>
<line x1="475.5" y1="650.6" x2="483.9" y2="650.6" stroke="#000" stroke-width="1.1"/>
<line x1="475.5" y1="678.5" x2="483.9" y2="678.5" stroke="#000" stroke-width="1.1"/>
<line x1="471.6" y1="664.1" x2="487.8" y2="664.1" stroke="#000" stroke-width="1.5"/>
<circle cx="479.7" cy="634.7" r="2.6"/>
<circle cx="474.1" cy="653.5" r="2.6"/>
<circle cx="485.3" cy="651.6" r="2.6"/>
<circle cx="479.7" cy="666.7" r="2.6"/>
<circle cx="479.7" cy="715.9" r="2.6"/>
<line x1="519.7" y1="675.3" x2="519.7" y2="680.6" stroke="#000" stroke-width="1.1"/>
<line x1="515.5" y1="675.3" x2="523.9" y2="675.3" stroke="#000" stroke-width="1.1"/>
<line x1="515.5" y1="680.6" x2="523.9" y2="680.6" stroke="#000" stroke-width="1.1"/>
<line x1="511.6" y1="677.8" x2="527.8" y2="677.8" stroke="#000" stroke-width="1.5"/>
<circle cx="517.2" cy="668.3" r="2.6"/>
<circle cx="522.3" cy="669.7" r="2.6"/>
<circle cx="514.3" cy="672.3" r="2.6"/>
<circle cx="525.1" cy="672.3" r="2.6"/>
<circle cx="519.5" cy="672.6" r="2.6"/>
<circle cx="518.3" cy="684.2" r="2.6"/>
<circle cx="523.8" cy="686.9" r="2.6"/>
<circle cx="520.7" cy="687.7" r="2.6"/>
<circle cx="515.6" cy="688.8" r="2.6"/>
<line x1="559.6" y1="656.7" x2="559.6" y2="670.2" stroke="#000" stroke-width="1.1"/>
<line x1="555.4" y1="656.7" x2="563.8" y2="656.7" stroke="#000" stroke-width="1.1"/>
<line x1="555.4" y1="670.2" x2="563.8" y2="670.2" stroke="#000" stroke-width="1.1"/>
<line x1="551.5" y1="663.3" x2="567.7" y2="663.3" stroke="#000" stroke-width="1.5"/>
<circle cx="559.4" cy="635.5" r="2.6"/>
<circle cx="554.1" cy="657.9" r="2.6"/>
<circle cx="565" cy="659" r="2.6"/>
<circle cx="554.1" cy="672.6" r="2.6"/>
<circle cx="565" cy="672.6" r="2.6"/>
<circle cx="559.4" cy="684.2" r="2.6"/>
<line x1="51.5" y1="834.52" x2="51.5" y2="1003.38" stroke="#000" stroke-width="1.75"/>
<line x1="44.3" y1="1002.5" x2="163.7" y2="1002.5" stroke="#000" stroke-width="1.75"/>
<line x1="44.3" y1="835.4" x2="51.5" y2="835.4" stroke="#000" stroke-width="1.55"/>
<text x="41.4" y="840.05" font-size="12.6" font-weight="bold" text-anchor="end" fill="#000" stroke="#000" stroke-width="0.25">0</text>
<line x1="44.3" y1="868.82" x2="51.5" y2="868.82" stroke="#000" stroke-width="1.55"/>
<text x="41.4" y="873.47" font-size="12.6" font-weight="bold" text-anchor="end" fill="#000" stroke="#000" stroke-width="0.25">-10</text>
<line x1="44.3" y1="902.24" x2="51.5" y2="902.24" stroke="#000" stroke-width="1.55"/>
<text x="41.4" y="906.89" font-size="12.6" font-weight="bold" text-anchor="end" fill="#000" stroke="#000" stroke-width="0.25">-20</text>
<line x1="44.3" y1="935.66" x2="51.5" y2="935.66" stroke="#000" stroke-width="1.55"/>
<text x="41.4" y="940.31" font-size="12.6" font-weight="bold" text-anchor="end" fill="#000" stroke="#000" stroke-width="0.25">-30</text>
<line x1="44.3" y1="969.08" x2="51.5" y2="969.08" stroke="#000" stroke-width="1.55"/>
<text x="41.4" y="973.73" font-size="12.6" font-weight="bold" text-anchor="end" fill="#000" stroke="#000" stroke-width="0.25">-40</text>
<line x1="44.3" y1="1002.5" x2="51.5" y2="1002.5" stroke="#000" stroke-width="1.55"/>
<text x="41.4" y="1007.15" font-size="12.6" font-weight="bold" text-anchor="end" fill="#000" stroke="#000" stroke-width="0.25">-50</text>
<line x1="53.1" y1="835.4" x2="163.2" y2="835.4" stroke="#000" stroke-width="1.3" stroke-dasharray="1.5 1.5"/>
<line x1="67.5" y1="1002.5" x2="67.5" y2="1009.3" stroke="#000" stroke-width="1.7"/>
<text x="67.5" y="1025.45" font-size="13.7" font-weight="bold" text-anchor="middle" fill="#000" stroke="#000" stroke-width="0.25">0.5</text>
<line x1="107.3" y1="1002.5" x2="107.3" y2="1009.3" stroke="#000" stroke-width="1.7"/>
<text x="107.3" y="1025.45" font-size="13.7" font-weight="bold" text-anchor="middle" fill="#000" stroke="#000" stroke-width="0.25">2.0</text>
<line x1="147.2" y1="1002.5" x2="147.2" y2="1009.3" stroke="#000" stroke-width="1.7"/>
<text x="147.2" y="1025.45" font-size="13.7" font-weight="bold" text-anchor="middle" fill="#000" stroke="#000" stroke-width="0.25">5.0</text>
<text x="107.3" y="1042.4" font-size="13.6" font-weight="bold" text-anchor="middle" fill="#000" stroke="#000" stroke-width="0.25">Pressure (cmH<tspan font-size="9.79" dy="4.08">2</tspan><tspan dy="-4.08">&#8203;</tspan>O)</text>
<text transform="translate(10.6 918.95) rotate(-90)" font-size="13.6" font-weight="bold" text-anchor="middle" fill="#000" stroke="#000" stroke-width="0.25">V<tspan font-size="9.79" dy="4.08">m</tspan><tspan dy="-4.08">&#8203;</tspan> (mV)</text>
<text x="106.9" y="813.3" font-size="15.85" font-weight="bold" text-anchor="middle" fill="#000" stroke="#000" stroke-width="0.25">Peak mV</text>
<text x="6" y="806.4" font-size="17.5" font-weight="bold" text-anchor="start" fill="#000" stroke="#000" stroke-width="0.25">J</text>
<line x1="67.4" y1="851.2" x2="67.4" y2="864.3" stroke="#000" stroke-width="1.1"/>
<line x1="63.2" y1="851.2" x2="71.6" y2="851.2" stroke="#000" stroke-width="1.1"/>
<line x1="63.2" y1="864.3" x2="71.6" y2="864.3" stroke="#000" stroke-width="1.1"/>
<line x1="59.3" y1="857.9" x2="75.5" y2="857.9" stroke="#000" stroke-width="1.5"/>
<circle cx="61.7" cy="861.1" r="2.6"/>
<circle cx="67.3" cy="862.4" r="2.6"/>
<circle cx="72.9" cy="863.9" r="2.6"/>
<circle cx="61.7" cy="867.9" r="2.6"/>
<circle cx="66.5" cy="859.5" r="2.6"/>
<line x1="107.2" y1="858.9" x2="107.2" y2="861.7" stroke="#000" stroke-width="1.1"/>
<line x1="103" y1="858.9" x2="111.4" y2="858.9" stroke="#000" stroke-width="1.1"/>
<line x1="103" y1="861.7" x2="111.4" y2="861.7" stroke="#000" stroke-width="1.1"/>
<line x1="99.1" y1="860.3" x2="115.3" y2="860.3" stroke="#000" stroke-width="1.5"/>
<circle cx="103.2" cy="853.6" r="2.6"/>
<circle cx="101.6" cy="855.5" r="2.6"/>
<circle cx="105.6" cy="856.3" r="2.6"/>
<circle cx="101.6" cy="864.3" r="2.6"/>
<circle cx="105.6" cy="864.3" r="2.6"/>
<circle cx="109.5" cy="864.3" r="2.6"/>
<circle cx="112.7" cy="864.3" r="2.6"/>
<circle cx="104" cy="861" r="2.6"/>
<circle cx="108.7" cy="861.9" r="2.6"/>
<line x1="147" y1="862.3" x2="147" y2="865.4" stroke="#000" stroke-width="1.1"/>
<line x1="142.8" y1="862.3" x2="151.2" y2="862.3" stroke="#000" stroke-width="1.1"/>
<line x1="142.8" y1="865.4" x2="151.2" y2="865.4" stroke="#000" stroke-width="1.1"/>
<line x1="138.9" y1="863.8" x2="155.1" y2="863.8" stroke="#000" stroke-width="1.5"/>
<circle cx="141.4" cy="856.3" r="2.6"/>
<circle cx="152.1" cy="861.1" r="2.6"/>
<circle cx="141.4" cy="864.3" r="2.6"/>
<circle cx="147" cy="866.7" r="2.6"/>
<circle cx="152.1" cy="868.2" r="2.6"/>
<circle cx="141.4" cy="870.6" r="2.6"/>
<line x1="253.7" y1="834.52" x2="253.7" y2="1003.38" stroke="#000" stroke-width="1.75"/>
<line x1="246.5" y1="1002.5" x2="365.5" y2="1002.5" stroke="#000" stroke-width="1.75"/>
<line x1="246.5" y1="835.4" x2="253.7" y2="835.4" stroke="#000" stroke-width="1.55"/>
<text x="243.6" y="840.05" font-size="12.6" font-weight="bold" text-anchor="end" fill="#000" stroke="#000" stroke-width="0.25">0</text>
<line x1="246.5" y1="868.82" x2="253.7" y2="868.82" stroke="#000" stroke-width="1.55"/>
<text x="243.6" y="873.47" font-size="12.6" font-weight="bold" text-anchor="end" fill="#000" stroke="#000" stroke-width="0.25">-10</text>
<line x1="246.5" y1="902.24" x2="253.7" y2="902.24" stroke="#000" stroke-width="1.55"/>
<text x="243.6" y="906.89" font-size="12.6" font-weight="bold" text-anchor="end" fill="#000" stroke="#000" stroke-width="0.25">-20</text>
<line x1="246.5" y1="935.66" x2="253.7" y2="935.66" stroke="#000" stroke-width="1.55"/>
<text x="243.6" y="940.31" font-size="12.6" font-weight="bold" text-anchor="end" fill="#000" stroke="#000" stroke-width="0.25">-30</text>
<line x1="246.5" y1="969.08" x2="253.7" y2="969.08" stroke="#000" stroke-width="1.55"/>
<text x="243.6" y="973.73" font-size="12.6" font-weight="bold" text-anchor="end" fill="#000" stroke="#000" stroke-width="0.25">-40</text>
<line x1="246.5" y1="1002.5" x2="253.7" y2="1002.5" stroke="#000" stroke-width="1.55"/>
<text x="243.6" y="1007.15" font-size="12.6" font-weight="bold" text-anchor="end" fill="#000" stroke="#000" stroke-width="0.25">-50</text>
<line x1="255.3" y1="835.4" x2="365" y2="835.4" stroke="#000" stroke-width="1.3" stroke-dasharray="1.5 1.5"/>
<line x1="269.7" y1="1002.5" x2="269.7" y2="1009.3" stroke="#000" stroke-width="1.7"/>
<text x="269.7" y="1025.45" font-size="13.7" font-weight="bold" text-anchor="middle" fill="#000" stroke="#000" stroke-width="0.25">0.5</text>
<line x1="309.5" y1="1002.5" x2="309.5" y2="1009.3" stroke="#000" stroke-width="1.7"/>
<text x="309.5" y="1025.45" font-size="13.7" font-weight="bold" text-anchor="middle" fill="#000" stroke="#000" stroke-width="0.25">2.0</text>
<line x1="349.5" y1="1002.5" x2="349.5" y2="1009.3" stroke="#000" stroke-width="1.7"/>
<text x="349.5" y="1025.45" font-size="13.7" font-weight="bold" text-anchor="middle" fill="#000" stroke="#000" stroke-width="0.25">5.0</text>
<text x="309.5" y="1042.4" font-size="13.6" font-weight="bold" text-anchor="middle" fill="#000" stroke="#000" stroke-width="0.25">Pressure (cmH<tspan font-size="9.79" dy="4.08">2</tspan><tspan dy="-4.08">&#8203;</tspan>O)</text>
<text transform="translate(213.5 918.95) rotate(-90)" font-size="13.6" font-weight="bold" text-anchor="middle" fill="#000" stroke="#000" stroke-width="0.25">V<tspan font-size="9.79" dy="4.08">m</tspan><tspan dy="-4.08">&#8203;</tspan> (mV)</text>
<text x="309.1" y="813.3" font-size="15.85" font-weight="bold" text-anchor="middle" fill="#000" stroke="#000" stroke-width="0.25">Plateau mV</text>
<text x="194.8" y="806.4" font-size="17.5" font-weight="bold" text-anchor="start" fill="#000" stroke="#000" stroke-width="0.25">K</text>
<line x1="269.7" y1="870" x2="269.7" y2="872.2" stroke="#000" stroke-width="1.1"/>
<line x1="265.5" y1="870" x2="273.9" y2="870" stroke="#000" stroke-width="1.1"/>
<line x1="265.5" y1="872.2" x2="273.9" y2="872.2" stroke="#000" stroke-width="1.1"/>
<line x1="261.6" y1="871.1" x2="277.8" y2="871.1" stroke="#000" stroke-width="1.5"/>
<circle cx="264.1" cy="870.6" r="2.6"/>
<circle cx="267.6" cy="868.7" r="2.6"/>
<circle cx="275" cy="869.8" r="2.6"/>
<circle cx="271.3" cy="872.7" r="2.6"/>
<circle cx="267.6" cy="876.2" r="2.6"/>
<line x1="309.7" y1="868.3" x2="309.7" y2="870.8" stroke="#000" stroke-width="1.1"/>
<line x1="305.5" y1="868.3" x2="313.9" y2="868.3" stroke="#000" stroke-width="1.1"/>
<line x1="305.5" y1="870.8" x2="313.9" y2="870.8" stroke="#000" stroke-width="1.1"/>
<line x1="301.6" y1="869.5" x2="317.8" y2="869.5" stroke="#000" stroke-width="1.5"/>
<circle cx="304.3" cy="868.2" r="2.6"/>
<circle cx="306.4" cy="867.5" r="2.6"/>
<circle cx="309.2" cy="865.1" r="2.6"/>
<circle cx="311.9" cy="868.7" r="2.6"/>
<circle cx="315.1" cy="868.7" r="2.6"/>
<circle cx="308.7" cy="870.6" r="2.6"/>
<circle cx="310.3" cy="874.6" r="2.6"/>
<circle cx="308.3" cy="876.7" r="2.6"/>
<circle cx="307.4" cy="869" r="2.6"/>
<line x1="349.4" y1="871.2" x2="349.4" y2="873.3" stroke="#000" stroke-width="1.1"/>
<line x1="345.2" y1="871.2" x2="353.6" y2="871.2" stroke="#000" stroke-width="1.1"/>
<line x1="345.2" y1="873.3" x2="353.6" y2="873.3" stroke="#000" stroke-width="1.1"/>
<line x1="341.3" y1="872.2" x2="357.5" y2="872.2" stroke="#000" stroke-width="1.5"/>
<circle cx="343.8" cy="872.2" r="2.6"/>
<circle cx="343.8" cy="874.3" r="2.6"/>
<circle cx="347" cy="871.8" r="2.6"/>
<circle cx="351" cy="871.4" r="2.6"/>
<circle cx="354.6" cy="869" r="2.6"/>
<circle cx="354.6" cy="875.9" r="2.6"/>
<line x1="464" y1="834.62" x2="464" y2="1003.38" stroke="#000" stroke-width="1.75"/>
<line x1="456.8" y1="1002.5" x2="575.9" y2="1002.5" stroke="#000" stroke-width="1.75"/>
<line x1="456.8" y1="835.5" x2="464" y2="835.5" stroke="#000" stroke-width="1.55"/>
<text x="453.9" y="840.15" font-size="12.6" font-weight="bold" text-anchor="end" fill="#000" stroke="#000" stroke-width="0.25">2.0</text>
<line x1="456.8" y1="877.25" x2="464" y2="877.25" stroke="#000" stroke-width="1.55"/>
<text x="453.9" y="881.9" font-size="12.6" font-weight="bold" text-anchor="end" fill="#000" stroke="#000" stroke-width="0.25">1.5</text>
<line x1="456.8" y1="919" x2="464" y2="919" stroke="#000" stroke-width="1.55"/>
<text x="453.9" y="923.65" font-size="12.6" font-weight="bold" text-anchor="end" fill="#000" stroke="#000" stroke-width="0.25">1.0</text>
<line x1="456.8" y1="960.75" x2="464" y2="960.75" stroke="#000" stroke-width="1.55"/>
<text x="453.9" y="965.4" font-size="12.6" font-weight="bold" text-anchor="end" fill="#000" stroke="#000" stroke-width="0.25">0.5</text>
<line x1="456.8" y1="1002.5" x2="464" y2="1002.5" stroke="#000" stroke-width="1.55"/>
<text x="453.9" y="1007.15" font-size="12.6" font-weight="bold" text-anchor="end" fill="#000" stroke="#000" stroke-width="0.25">0.0</text>
<line x1="479.6" y1="1002.5" x2="479.6" y2="1009.3" stroke="#000" stroke-width="1.7"/>
<text x="479.6" y="1025.45" font-size="13.7" font-weight="bold" text-anchor="middle" fill="#000" stroke="#000" stroke-width="0.25">0.5</text>
<line x1="519.5" y1="1002.5" x2="519.5" y2="1009.3" stroke="#000" stroke-width="1.7"/>
<text x="519.5" y="1025.45" font-size="13.7" font-weight="bold" text-anchor="middle" fill="#000" stroke="#000" stroke-width="0.25">2.0</text>
<line x1="559.6" y1="1002.5" x2="559.6" y2="1009.3" stroke="#000" stroke-width="1.7"/>
<text x="559.6" y="1025.45" font-size="13.7" font-weight="bold" text-anchor="middle" fill="#000" stroke="#000" stroke-width="0.25">5.0</text>
<text x="519.5" y="1042.4" font-size="13.6" font-weight="bold" text-anchor="middle" fill="#000" stroke="#000" stroke-width="0.25">Pressure (cmH<tspan font-size="9.79" dy="4.08">2</tspan><tspan dy="-4.08">&#8203;</tspan>O)</text>
<text transform="translate(428 919) rotate(-90)" font-size="13.6" font-weight="bold" text-anchor="middle" fill="#000" stroke="#000" stroke-width="0.25">Seconds</text>
<text x="520.2" y="813.3" font-size="15.85" font-weight="bold" text-anchor="middle" fill="#000" stroke="#000" stroke-width="0.25">Time over Thresh</text>
<text x="409" y="806.4" font-size="17.5" font-weight="bold" text-anchor="start" fill="#000" stroke="#000" stroke-width="0.25">L</text>
<line x1="479.7" y1="912.4" x2="479.7" y2="927.3" stroke="#000" stroke-width="1.1"/>
<line x1="475.5" y1="912.4" x2="483.9" y2="912.4" stroke="#000" stroke-width="1.1"/>
<line x1="475.5" y1="927.3" x2="483.9" y2="927.3" stroke="#000" stroke-width="1.1"/>
<line x1="471.6" y1="919.8" x2="487.8" y2="919.8" stroke="#000" stroke-width="1.5"/>
<circle cx="474.1" cy="901.5" r="2.6"/>
<circle cx="485.3" cy="903.6" r="2.6"/>
<circle cx="474.1" cy="928.6" r="2.6"/>
<circle cx="485.3" cy="929.9" r="2.6"/>
<circle cx="479.7" cy="936.6" r="2.6"/>
<line x1="519.6" y1="926.2" x2="519.6" y2="935.8" stroke="#000" stroke-width="1.1"/>
<line x1="515.4" y1="926.2" x2="523.8" y2="926.2" stroke="#000" stroke-width="1.1"/>
<line x1="515.4" y1="935.8" x2="523.8" y2="935.8" stroke="#000" stroke-width="1.1"/>
<line x1="511.5" y1="931" x2="527.7" y2="931" stroke="#000" stroke-width="1.5"/>
<circle cx="519.5" cy="908.4" r="2.6"/>
<circle cx="519.5" cy="916.7" r="2.6"/>
<circle cx="525.1" cy="923" r="2.6"/>
<circle cx="519.5" cy="926.2" r="2.6"/>
<circle cx="519.5" cy="934.7" r="2.6"/>
<circle cx="514.3" cy="936.6" r="2.6"/>
<circle cx="525.1" cy="936.6" r="2.6"/>
<circle cx="519.5" cy="943.3" r="2.6"/>
<circle cx="519.5" cy="954.4" r="2.6"/>
<line x1="559.5" y1="920.3" x2="559.5" y2="931.3" stroke="#000" stroke-width="1.1"/>
<line x1="555.3" y1="920.3" x2="563.7" y2="920.3" stroke="#000" stroke-width="1.1"/>
<line x1="555.3" y1="931.3" x2="563.7" y2="931.3" stroke="#000" stroke-width="1.1"/>
<line x1="551.4" y1="925.9" x2="567.6" y2="925.9" stroke="#000" stroke-width="1.5"/>
<circle cx="559.4" cy="907.1" r="2.6"/>
<circle cx="559.4" cy="913.8" r="2.6"/>
<circle cx="559.4" cy="926.2" r="2.6"/>
<circle cx="559.4" cy="934.2" r="2.6"/>
<circle cx="565" cy="935.8" r="2.6"/>
<circle cx="553.8" cy="939" r="2.6"/>
<line x1="452.7" y1="289.12" x2="452.7" y2="462.57" stroke="#000" stroke-width="1.75"/>
<line x1="445.9" y1="461.7" x2="711.38" y2="461.7" stroke="#000" stroke-width="1.75"/>
<line x1="445.9" y1="290" x2="452.7" y2="290" stroke="#000" stroke-width="1.75"/>
<text x="442.7" y="294.5" font-size="13.4" font-weight="bold" text-anchor="end" fill="#000" stroke="#000" stroke-width="0.25">60</text>
<line x1="445.9" y1="347.23" x2="452.7" y2="347.23" stroke="#000" stroke-width="1.75"/>
<text x="442.7" y="351.73" font-size="13.4" font-weight="bold" text-anchor="end" fill="#000" stroke="#000" stroke-width="0.25">40</text>
<line x1="445.9" y1="404.47" x2="452.7" y2="404.47" stroke="#000" stroke-width="1.75"/>
<text x="442.7" y="408.97" font-size="13.4" font-weight="bold" text-anchor="end" fill="#000" stroke="#000" stroke-width="0.25">20</text>
<line x1="445.9" y1="461.7" x2="452.7" y2="461.7" stroke="#000" stroke-width="1.75"/>
<text x="442.7" y="466.2" font-size="13.4" font-weight="bold" text-anchor="end" fill="#000" stroke="#000" stroke-width="0.25">0</text>
<line x1="452.7" y1="461.7" x2="452.7" y2="468.5" stroke="#000" stroke-width="1.75"/>
<text x="452.7" y="482.9" font-size="13.4" font-weight="bold" text-anchor="middle" fill="#000" stroke="#000" stroke-width="0.25">0</text>
<line x1="504.25" y1="461.7" x2="504.25" y2="468.5" stroke="#000" stroke-width="1.75"/>
<text x="504.25" y="482.9" font-size="13.4" font-weight="bold" text-anchor="middle" fill="#000" stroke="#000" stroke-width="0.25">5</text>
<line x1="555.8" y1="461.7" x2="555.8" y2="468.5" stroke="#000" stroke-width="1.75"/>
<text x="555.8" y="482.9" font-size="13.4" font-weight="bold" text-anchor="middle" fill="#000" stroke="#000" stroke-width="0.25">10</text>
<line x1="607.35" y1="461.7" x2="607.35" y2="468.5" stroke="#000" stroke-width="1.75"/>
<text x="607.35" y="482.9" font-size="13.4" font-weight="bold" text-anchor="middle" fill="#000" stroke="#000" stroke-width="0.25">15</text>
<line x1="658.9" y1="461.7" x2="658.9" y2="468.5" stroke="#000" stroke-width="1.75"/>
<text x="658.9" y="482.9" font-size="13.4" font-weight="bold" text-anchor="middle" fill="#000" stroke="#000" stroke-width="0.25">20</text>
<line x1="710.45" y1="461.7" x2="710.45" y2="468.5" stroke="#000" stroke-width="1.75"/>
<text x="710.45" y="482.9" font-size="13.4" font-weight="bold" text-anchor="middle" fill="#000" stroke="#000" stroke-width="0.25">25</text>
<text x="581.8" y="503.8" font-size="13.85" font-weight="bold" text-anchor="middle" fill="#000" stroke="#000" stroke-width="0.25">Diastolic Depol mV / s</text>
<text transform="translate(420.2 375.85) rotate(-90)" font-size="13.9" font-weight="bold" text-anchor="middle" fill="#000" stroke="#000" stroke-width="0.25">Contrtaction Frequency</text>
<text x="452" y="269.8" font-size="16.1" font-weight="bold" text-anchor="start" fill="#000" stroke="#000" stroke-width="0.25">Diastolic Depolarization vs Freq</text>
<text x="408.5" y="263.2" font-size="17.5" font-weight="bold" text-anchor="start" fill="#000" stroke="#000" stroke-width="0.25">F</text>
<text x="476.2" y="299.2" font-size="13.7" font-weight="normal" text-anchor="start" fill="#000" stroke="#000" stroke-width="0.15">r<tspan font-size="10.14" dy="-4.25">2</tspan><tspan dy="4.25">&#8203;</tspan> = 0.8741</text>
<text x="480.4" y="316.4" font-size="13.7" font-weight="normal" text-anchor="start" fill="#000" stroke="#000" stroke-width="0.15">p&lt;0.0001</text>
<line x1="474.9" y1="416.1" x2="677.6" y2="342.2" stroke="#000" stroke-width="0.9"/>
<path d="M474.9 405.6 L480.1 404.14 L485.29 402.66 L490.49 401.18 L495.69 399.69 L500.89 398.19 L506.08 396.67 L511.28 395.13 L516.48 393.58 L521.68 392 L526.87 390.4 L532.07 388.78 L537.27 387.12 L542.47 385.42 L547.66 383.69 L552.86 381.91 L558.06 380.1 L563.26 378.23 L568.45 376.32 L573.65 374.36 L578.85 372.35 L584.05 370.31 L589.24 368.22 L594.44 366.1 L599.64 363.94 L604.84 361.76 L610.03 359.55 L615.23 357.32 L620.43 355.07 L625.63 352.8 L630.82 350.52 L636.02 348.23 L641.22 345.92 L646.42 343.61 L651.61 341.28 L656.81 338.95 L662.01 336.61 L667.21 334.27 L672.4 331.92 L677.6 329.56" fill="none" stroke="#000" stroke-width="0.9" stroke-dasharray="3 1.6"/>
<path d="M474.9 426.6 L480.1 424.27 L485.29 421.96 L490.49 419.65 L495.69 417.35 L500.89 415.06 L506.08 412.79 L511.28 410.54 L516.48 408.3 L521.68 406.09 L526.87 403.9 L532.07 401.74 L537.27 399.61 L542.47 397.51 L547.66 395.45 L552.86 393.44 L558.06 391.47 L563.26 389.54 L568.45 387.67 L573.65 385.84 L578.85 384.05 L584.05 382.31 L589.24 380.61 L594.44 378.94 L599.64 377.3 L604.84 375.7 L610.03 374.12 L615.23 372.56 L620.43 371.02 L625.63 369.49 L630.82 367.99 L636.02 366.49 L641.22 365.01 L646.42 363.53 L651.61 362.07 L656.81 360.61 L662.01 359.16 L667.21 357.71 L672.4 356.27 L677.6 354.84" fill="none" stroke="#000" stroke-width="0.9" stroke-dasharray="3 1.6"/>
<circle cx="474.9" cy="426.5" r="3.4"/>
<circle cx="491.2" cy="412.9" r="3.4"/>
<circle cx="509.8" cy="394.6" r="3.4"/>
<circle cx="510.8" cy="400.2" r="3.4"/>
<circle cx="521.1" cy="399" r="3.4"/>
<circle cx="524.7" cy="407.6" r="3.4"/>
<circle cx="530.5" cy="373.3" r="3.4"/>
<circle cx="531.7" cy="391.2" r="3.4"/>
<circle cx="536.5" cy="400.2" r="3.4"/>
<circle cx="538.2" cy="408.8" r="3.4"/>
<circle cx="567.9" cy="366.7" r="3.4"/>
<circle cx="568.5" cy="386.5" r="3.4"/>
<circle cx="573.9" cy="377.1" r="3.4"/>
<circle cx="587.3" cy="374.1" r="3.4"/>
<circle cx="601.5" cy="364.3" r="3.4"/>
<circle cx="603.9" cy="375.1" r="3.4"/>
<circle cx="629.4" cy="381.3" r="3.4"/>
<circle cx="672" cy="357.4" r="3.4"/>
<circle cx="677.2" cy="324.3" r="3.4"/>
<text transform="translate(9.3 773.9) scale(0.1)" font-size="25.5" textLength="1814.0" lengthAdjust="spacing" fill="#2a2a2a" text-rendering="geometricPrecision">bioRxiv preprint doi: <tspan fill="#2222dd">doi.org/10.1101/2023.08.24.554619</tspan>; this version posted August 25, 2023. The copyright holder for this preprint</text>
<text transform="translate(4.8 776.7) scale(0.1)" font-size="25.5" textLength="1864.0" lengthAdjust="spacing" fill="#2a2a2a" text-rendering="geometricPrecision">(which was not certified by peer review) is the author/funder, who has granted bioRxiv a license to display the preprint in perpetuity. It is made</text>
<text transform="translate(65.9 779.4) scale(0.1)" font-size="25.5" textLength="642.0" lengthAdjust="spacing" fill="#2a2a2a" text-rendering="geometricPrecision">available under a<tspan fill="#2222dd">CC-BY 4.0 International license</tspan>.</text>
</svg></body></html>
